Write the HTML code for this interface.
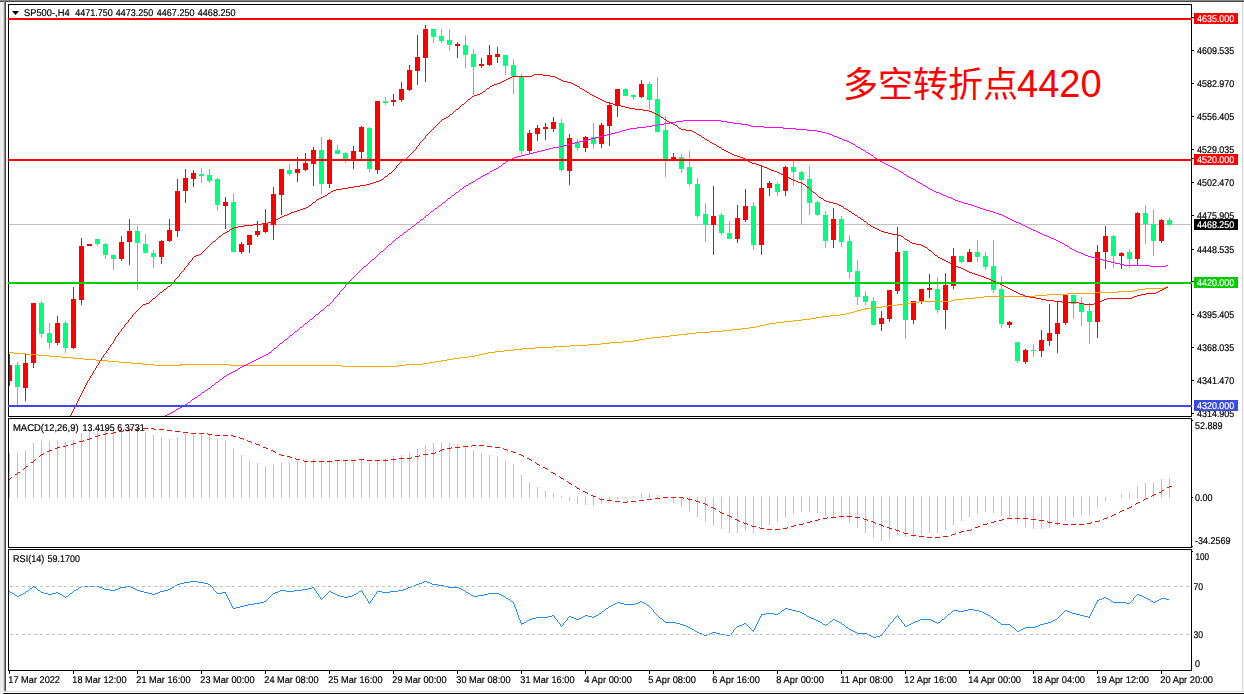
<!DOCTYPE html>
<html><head><meta charset="utf-8"><title>SP500 H4</title>
<style>html,body{margin:0;padding:0;background:#fff;width:1244px;height:694px;overflow:hidden}body{position:relative;font-family:"Liberation Sans",sans-serif}</style></head>
<body>
<svg width="1244" height="694" viewBox="0 0 1244 694" style="display:block;position:absolute;left:0;top:0">
<defs><clipPath id="cm"><rect x="9" y="5" width="1182" height="411"/></clipPath><clipPath id="c2"><rect x="9" y="419" width="1182" height="128"/></clipPath><clipPath id="c3"><rect x="9" y="550" width="1182" height="120"/></clipPath></defs>
<rect x="0" y="0" width="1244" height="694" fill="#ffffff"/>
<g shape-rendering="crispEdges">
<rect x="0" y="0" width="1244" height="1" fill="#888888"/>
<rect x="0" y="1" width="1244" height="1" fill="#464646"/>
<rect x="0" y="2" width="1" height="692" fill="#e6e6e6"/>
<rect x="1" y="2" width="1" height="692" fill="#f6f6f6"/>
<rect x="2" y="2" width="1" height="692" fill="#ebebeb"/>
<rect x="3" y="2" width="1" height="689" fill="#dcdcdc"/>
<rect x="4" y="1" width="1" height="690" fill="#8a8a8a"/>
<rect x="5" y="1" width="1" height="690" fill="#4c4c4c"/>
<rect x="1242" y="2" width="1" height="690" fill="#dcdcdc"/>
<rect x="1243" y="2" width="1" height="690" fill="#f2f2f2"/>
<rect x="4" y="691" width="1240" height="1" fill="#dcdcdc"/>
<rect x="3" y="693" width="1241" height="1" fill="#101010"/>
</g>
<g shape-rendering="crispEdges">
<rect x="9" y="224" width="1182" height="1" fill="#c0c0c0"/>
</g>
<g shape-rendering="crispEdges" clip-path="url(#cm)">
<rect x="9" y="354" width="1" height="32" fill="#ff0000"/>
<rect x="7" y="365" width="5" height="16" fill="#ff0000"/>
<rect x="17" y="362" width="1" height="43" fill="#00ff7f"/>
<rect x="15" y="365" width="5" height="22" fill="#00ff7f"/>
<rect x="25" y="353" width="1" height="48" fill="#ff0000"/>
<rect x="23" y="363" width="5" height="25" fill="#ff0000"/>
<rect x="33" y="303" width="1" height="65" fill="#ff0000"/>
<rect x="31" y="303" width="5" height="60" fill="#ff0000"/>
<rect x="41" y="301" width="1" height="37" fill="#00ff7f"/>
<rect x="39" y="303" width="5" height="31" fill="#00ff7f"/>
<rect x="49" y="323" width="1" height="26" fill="#00ff7f"/>
<rect x="47" y="333" width="5" height="10" fill="#00ff7f"/>
<rect x="57" y="316" width="1" height="29" fill="#ff0000"/>
<rect x="55" y="323" width="5" height="20" fill="#ff0000"/>
<rect x="65" y="321" width="1" height="32" fill="#00ff7f"/>
<rect x="63" y="323" width="5" height="25" fill="#00ff7f"/>
<rect x="73" y="287" width="1" height="62" fill="#ff0000"/>
<rect x="71" y="299" width="5" height="49" fill="#ff0000"/>
<rect x="81" y="238" width="1" height="67" fill="#ff0000"/>
<rect x="79" y="246" width="5" height="54" fill="#ff0000"/>
<rect x="89" y="244" width="1" height="2" fill="#ff0000"/>
<rect x="87" y="244" width="5" height="2" fill="#ff0000"/>
<rect x="97" y="239" width="1" height="7" fill="#00ff7f"/>
<rect x="95" y="239" width="5" height="5" fill="#00ff7f"/>
<rect x="105" y="243" width="1" height="16" fill="#00ff7f"/>
<rect x="103" y="244" width="5" height="11" fill="#00ff7f"/>
<rect x="113" y="254" width="1" height="16" fill="#00ff7f"/>
<rect x="111" y="255" width="5" height="4" fill="#00ff7f"/>
<rect x="121" y="236" width="1" height="25" fill="#ff0000"/>
<rect x="119" y="242" width="5" height="17" fill="#ff0000"/>
<rect x="129" y="219" width="1" height="46" fill="#ff0000"/>
<rect x="127" y="231" width="5" height="11" fill="#ff0000"/>
<rect x="137" y="226" width="1" height="64" fill="#00ff7f"/>
<rect x="135" y="231" width="5" height="12" fill="#00ff7f"/>
<rect x="145" y="234" width="1" height="19" fill="#00ff7f"/>
<rect x="143" y="244" width="5" height="9" fill="#00ff7f"/>
<rect x="153" y="250" width="1" height="18" fill="#00ff7f"/>
<rect x="151" y="253" width="5" height="4" fill="#00ff7f"/>
<rect x="161" y="240" width="1" height="24" fill="#ff0000"/>
<rect x="159" y="241" width="5" height="16" fill="#ff0000"/>
<rect x="169" y="219" width="1" height="23" fill="#ff0000"/>
<rect x="167" y="230" width="5" height="11" fill="#ff0000"/>
<rect x="177" y="179" width="1" height="58" fill="#ff0000"/>
<rect x="175" y="191" width="5" height="40" fill="#ff0000"/>
<rect x="185" y="169" width="1" height="34" fill="#ff0000"/>
<rect x="183" y="178" width="5" height="13" fill="#ff0000"/>
<rect x="193" y="170" width="1" height="17" fill="#ff0000"/>
<rect x="191" y="173" width="5" height="6" fill="#ff0000"/>
<rect x="201" y="168" width="1" height="15" fill="#00ff7f"/>
<rect x="199" y="174" width="5" height="2" fill="#00ff7f"/>
<rect x="209" y="169" width="1" height="14" fill="#00ff7f"/>
<rect x="207" y="175" width="5" height="6" fill="#00ff7f"/>
<rect x="217" y="178" width="1" height="33" fill="#00ff7f"/>
<rect x="215" y="179" width="5" height="26" fill="#00ff7f"/>
<rect x="225" y="197" width="1" height="32" fill="#ff0000"/>
<rect x="223" y="202" width="5" height="4" fill="#ff0000"/>
<rect x="233" y="193" width="1" height="59" fill="#00ff7f"/>
<rect x="231" y="202" width="5" height="50" fill="#00ff7f"/>
<rect x="241" y="242" width="1" height="12" fill="#ff0000"/>
<rect x="239" y="244" width="5" height="8" fill="#ff0000"/>
<rect x="249" y="235" width="1" height="18" fill="#ff0000"/>
<rect x="247" y="235" width="5" height="10" fill="#ff0000"/>
<rect x="257" y="221" width="1" height="16" fill="#ff0000"/>
<rect x="255" y="231" width="5" height="4" fill="#ff0000"/>
<rect x="265" y="209" width="1" height="24" fill="#ff0000"/>
<rect x="263" y="224" width="5" height="8" fill="#ff0000"/>
<rect x="273" y="187" width="1" height="53" fill="#ff0000"/>
<rect x="271" y="194" width="5" height="31" fill="#ff0000"/>
<rect x="281" y="169" width="1" height="46" fill="#ff0000"/>
<rect x="279" y="169" width="5" height="26" fill="#ff0000"/>
<rect x="289" y="164" width="1" height="12" fill="#00ff7f"/>
<rect x="287" y="170" width="5" height="4" fill="#00ff7f"/>
<rect x="297" y="157" width="1" height="25" fill="#ff0000"/>
<rect x="295" y="169" width="5" height="4" fill="#ff0000"/>
<rect x="305" y="153" width="1" height="18" fill="#ff0000"/>
<rect x="303" y="163" width="5" height="7" fill="#ff0000"/>
<rect x="313" y="147" width="1" height="39" fill="#ff0000"/>
<rect x="311" y="150" width="5" height="14" fill="#ff0000"/>
<rect x="321" y="137" width="1" height="57" fill="#00ff7f"/>
<rect x="319" y="150" width="5" height="34" fill="#00ff7f"/>
<rect x="329" y="139" width="1" height="49" fill="#ff0000"/>
<rect x="327" y="140" width="5" height="44" fill="#ff0000"/>
<rect x="337" y="145" width="1" height="9" fill="#00ff7f"/>
<rect x="335" y="150" width="5" height="4" fill="#00ff7f"/>
<rect x="345" y="152" width="1" height="11" fill="#00ff7f"/>
<rect x="343" y="153" width="5" height="6" fill="#00ff7f"/>
<rect x="353" y="146" width="1" height="23" fill="#ff0000"/>
<rect x="351" y="151" width="5" height="9" fill="#ff0000"/>
<rect x="361" y="126" width="1" height="33" fill="#ff0000"/>
<rect x="359" y="127" width="5" height="25" fill="#ff0000"/>
<rect x="369" y="127" width="1" height="45" fill="#00ff7f"/>
<rect x="367" y="128" width="5" height="41" fill="#00ff7f"/>
<rect x="377" y="101" width="1" height="73" fill="#ff0000"/>
<rect x="375" y="101" width="5" height="69" fill="#ff0000"/>
<rect x="385" y="97" width="1" height="8" fill="#00ff7f"/>
<rect x="383" y="101" width="5" height="2" fill="#00ff7f"/>
<rect x="393" y="94" width="1" height="12" fill="#ff0000"/>
<rect x="391" y="100" width="5" height="2" fill="#ff0000"/>
<rect x="401" y="82" width="1" height="20" fill="#ff0000"/>
<rect x="399" y="89" width="5" height="11" fill="#ff0000"/>
<rect x="409" y="65" width="1" height="26" fill="#ff0000"/>
<rect x="407" y="70" width="5" height="20" fill="#ff0000"/>
<rect x="417" y="35" width="1" height="50" fill="#ff0000"/>
<rect x="415" y="57" width="5" height="14" fill="#ff0000"/>
<rect x="425" y="25" width="1" height="57" fill="#ff0000"/>
<rect x="423" y="29" width="5" height="29" fill="#ff0000"/>
<rect x="433" y="29" width="1" height="14" fill="#00ff7f"/>
<rect x="431" y="29" width="5" height="8" fill="#00ff7f"/>
<rect x="441" y="29" width="1" height="14" fill="#00ff7f"/>
<rect x="439" y="36" width="5" height="5" fill="#00ff7f"/>
<rect x="449" y="29" width="1" height="22" fill="#00ff7f"/>
<rect x="447" y="40" width="5" height="5" fill="#00ff7f"/>
<rect x="457" y="42" width="1" height="16" fill="#ff0000"/>
<rect x="455" y="44" width="5" height="2" fill="#ff0000"/>
<rect x="465" y="35" width="1" height="33" fill="#00ff7f"/>
<rect x="463" y="45" width="5" height="10" fill="#00ff7f"/>
<rect x="473" y="49" width="1" height="46" fill="#00ff7f"/>
<rect x="471" y="54" width="5" height="13" fill="#00ff7f"/>
<rect x="481" y="58" width="1" height="10" fill="#ff0000"/>
<rect x="479" y="64" width="5" height="2" fill="#ff0000"/>
<rect x="489" y="45" width="1" height="21" fill="#ff0000"/>
<rect x="487" y="55" width="5" height="10" fill="#ff0000"/>
<rect x="497" y="47" width="1" height="16" fill="#ff0000"/>
<rect x="495" y="54" width="5" height="3" fill="#ff0000"/>
<rect x="505" y="55" width="1" height="20" fill="#00ff7f"/>
<rect x="503" y="55" width="5" height="11" fill="#00ff7f"/>
<rect x="513" y="59" width="1" height="35" fill="#00ff7f"/>
<rect x="511" y="65" width="5" height="11" fill="#00ff7f"/>
<rect x="521" y="74" width="1" height="80" fill="#00ff7f"/>
<rect x="519" y="77" width="5" height="74" fill="#00ff7f"/>
<rect x="529" y="130" width="1" height="23" fill="#ff0000"/>
<rect x="527" y="133" width="5" height="18" fill="#ff0000"/>
<rect x="537" y="125" width="1" height="16" fill="#ff0000"/>
<rect x="535" y="128" width="5" height="6" fill="#ff0000"/>
<rect x="545" y="123" width="1" height="17" fill="#ff0000"/>
<rect x="543" y="127" width="5" height="2" fill="#ff0000"/>
<rect x="553" y="117" width="1" height="15" fill="#ff0000"/>
<rect x="551" y="122" width="5" height="7" fill="#ff0000"/>
<rect x="561" y="119" width="1" height="53" fill="#00ff7f"/>
<rect x="559" y="123" width="5" height="47" fill="#00ff7f"/>
<rect x="569" y="134" width="1" height="51" fill="#ff0000"/>
<rect x="567" y="138" width="5" height="33" fill="#ff0000"/>
<rect x="577" y="139" width="1" height="12" fill="#00ff7f"/>
<rect x="575" y="143" width="5" height="5" fill="#00ff7f"/>
<rect x="585" y="136" width="1" height="16" fill="#ff0000"/>
<rect x="583" y="137" width="5" height="11" fill="#ff0000"/>
<rect x="593" y="123" width="1" height="26" fill="#00ff7f"/>
<rect x="591" y="137" width="5" height="7" fill="#00ff7f"/>
<rect x="601" y="123" width="1" height="25" fill="#ff0000"/>
<rect x="599" y="125" width="5" height="19" fill="#ff0000"/>
<rect x="609" y="102" width="1" height="44" fill="#ff0000"/>
<rect x="607" y="105" width="5" height="21" fill="#ff0000"/>
<rect x="617" y="89" width="1" height="28" fill="#ff0000"/>
<rect x="615" y="89" width="5" height="17" fill="#ff0000"/>
<rect x="625" y="88" width="1" height="8" fill="#00ff7f"/>
<rect x="623" y="89" width="5" height="7" fill="#00ff7f"/>
<rect x="633" y="94" width="1" height="6" fill="#00ff7f"/>
<rect x="631" y="95" width="5" height="2" fill="#00ff7f"/>
<rect x="641" y="80" width="1" height="18" fill="#ff0000"/>
<rect x="639" y="84" width="5" height="13" fill="#ff0000"/>
<rect x="649" y="82" width="1" height="27" fill="#00ff7f"/>
<rect x="647" y="84" width="5" height="16" fill="#00ff7f"/>
<rect x="657" y="77" width="1" height="55" fill="#00ff7f"/>
<rect x="655" y="99" width="5" height="33" fill="#00ff7f"/>
<rect x="665" y="116" width="1" height="61" fill="#00ff7f"/>
<rect x="663" y="130" width="5" height="30" fill="#00ff7f"/>
<rect x="673" y="153" width="1" height="7" fill="#ff0000"/>
<rect x="671" y="157" width="5" height="3" fill="#ff0000"/>
<rect x="681" y="154" width="1" height="19" fill="#00ff7f"/>
<rect x="679" y="157" width="5" height="12" fill="#00ff7f"/>
<rect x="689" y="151" width="1" height="35" fill="#00ff7f"/>
<rect x="687" y="167" width="5" height="17" fill="#00ff7f"/>
<rect x="697" y="178" width="1" height="40" fill="#00ff7f"/>
<rect x="695" y="184" width="5" height="32" fill="#00ff7f"/>
<rect x="705" y="203" width="1" height="39" fill="#00ff7f"/>
<rect x="703" y="214" width="5" height="11" fill="#00ff7f"/>
<rect x="713" y="186" width="1" height="69" fill="#ff0000"/>
<rect x="711" y="216" width="5" height="9" fill="#ff0000"/>
<rect x="721" y="213" width="1" height="22" fill="#00ff7f"/>
<rect x="719" y="215" width="5" height="18" fill="#00ff7f"/>
<rect x="729" y="221" width="1" height="18" fill="#00ff7f"/>
<rect x="727" y="233" width="5" height="6" fill="#00ff7f"/>
<rect x="737" y="205" width="1" height="38" fill="#ff0000"/>
<rect x="735" y="218" width="5" height="21" fill="#ff0000"/>
<rect x="745" y="189" width="1" height="33" fill="#ff0000"/>
<rect x="743" y="206" width="5" height="14" fill="#ff0000"/>
<rect x="753" y="202" width="1" height="48" fill="#00ff7f"/>
<rect x="751" y="206" width="5" height="39" fill="#00ff7f"/>
<rect x="761" y="165" width="1" height="90" fill="#ff0000"/>
<rect x="759" y="188" width="5" height="57" fill="#ff0000"/>
<rect x="769" y="181" width="1" height="15" fill="#ff0000"/>
<rect x="767" y="183" width="5" height="5" fill="#ff0000"/>
<rect x="777" y="182" width="1" height="14" fill="#00ff7f"/>
<rect x="775" y="184" width="5" height="8" fill="#00ff7f"/>
<rect x="785" y="166" width="1" height="30" fill="#ff0000"/>
<rect x="783" y="167" width="5" height="24" fill="#ff0000"/>
<rect x="793" y="161" width="1" height="25" fill="#00ff7f"/>
<rect x="791" y="167" width="5" height="5" fill="#00ff7f"/>
<rect x="801" y="171" width="1" height="54" fill="#00ff7f"/>
<rect x="799" y="172" width="5" height="8" fill="#00ff7f"/>
<rect x="809" y="166" width="1" height="49" fill="#00ff7f"/>
<rect x="807" y="179" width="5" height="24" fill="#00ff7f"/>
<rect x="817" y="201" width="1" height="15" fill="#00ff7f"/>
<rect x="815" y="202" width="5" height="13" fill="#00ff7f"/>
<rect x="825" y="211" width="1" height="37" fill="#00ff7f"/>
<rect x="823" y="215" width="5" height="26" fill="#00ff7f"/>
<rect x="833" y="208" width="1" height="40" fill="#ff0000"/>
<rect x="831" y="219" width="5" height="21" fill="#ff0000"/>
<rect x="841" y="216" width="1" height="31" fill="#00ff7f"/>
<rect x="839" y="219" width="5" height="23" fill="#00ff7f"/>
<rect x="849" y="235" width="1" height="44" fill="#00ff7f"/>
<rect x="847" y="241" width="5" height="31" fill="#00ff7f"/>
<rect x="857" y="260" width="1" height="45" fill="#00ff7f"/>
<rect x="855" y="271" width="5" height="26" fill="#00ff7f"/>
<rect x="865" y="291" width="1" height="14" fill="#00ff7f"/>
<rect x="863" y="296" width="5" height="6" fill="#00ff7f"/>
<rect x="873" y="297" width="1" height="28" fill="#00ff7f"/>
<rect x="871" y="301" width="5" height="24" fill="#00ff7f"/>
<rect x="881" y="311" width="1" height="20" fill="#ff0000"/>
<rect x="879" y="318" width="5" height="6" fill="#ff0000"/>
<rect x="889" y="290" width="1" height="32" fill="#ff0000"/>
<rect x="887" y="290" width="5" height="29" fill="#ff0000"/>
<rect x="897" y="227" width="1" height="67" fill="#ff0000"/>
<rect x="895" y="252" width="5" height="39" fill="#ff0000"/>
<rect x="905" y="251" width="1" height="88" fill="#00ff7f"/>
<rect x="903" y="251" width="5" height="69" fill="#00ff7f"/>
<rect x="913" y="301" width="1" height="23" fill="#ff0000"/>
<rect x="911" y="301" width="5" height="19" fill="#ff0000"/>
<rect x="921" y="289" width="1" height="15" fill="#ff0000"/>
<rect x="919" y="289" width="5" height="13" fill="#ff0000"/>
<rect x="929" y="274" width="1" height="24" fill="#ff0000"/>
<rect x="927" y="288" width="5" height="2" fill="#ff0000"/>
<rect x="937" y="277" width="1" height="36" fill="#00ff7f"/>
<rect x="935" y="289" width="5" height="21" fill="#00ff7f"/>
<rect x="945" y="273" width="1" height="56" fill="#ff0000"/>
<rect x="943" y="285" width="5" height="25" fill="#ff0000"/>
<rect x="953" y="248" width="1" height="41" fill="#ff0000"/>
<rect x="951" y="256" width="5" height="30" fill="#ff0000"/>
<rect x="961" y="256" width="1" height="7" fill="#00ff7f"/>
<rect x="959" y="256" width="5" height="6" fill="#00ff7f"/>
<rect x="969" y="249" width="1" height="13" fill="#ff0000"/>
<rect x="967" y="252" width="5" height="10" fill="#ff0000"/>
<rect x="977" y="240" width="1" height="22" fill="#00ff7f"/>
<rect x="975" y="252" width="5" height="5" fill="#00ff7f"/>
<rect x="985" y="252" width="1" height="18" fill="#00ff7f"/>
<rect x="983" y="256" width="5" height="11" fill="#00ff7f"/>
<rect x="993" y="240" width="1" height="53" fill="#00ff7f"/>
<rect x="991" y="266" width="5" height="24" fill="#00ff7f"/>
<rect x="1001" y="276" width="1" height="52" fill="#00ff7f"/>
<rect x="999" y="289" width="5" height="35" fill="#00ff7f"/>
<rect x="1009" y="321" width="1" height="7" fill="#ff0000"/>
<rect x="1007" y="322" width="5" height="3" fill="#ff0000"/>
<rect x="1017" y="342" width="1" height="21" fill="#00ff7f"/>
<rect x="1015" y="342" width="5" height="19" fill="#00ff7f"/>
<rect x="1025" y="349" width="1" height="15" fill="#ff0000"/>
<rect x="1023" y="350" width="5" height="12" fill="#ff0000"/>
<rect x="1033" y="344" width="1" height="13" fill="#00ff7f"/>
<rect x="1031" y="350" width="5" height="1" fill="#00ff7f"/>
<rect x="1041" y="330" width="1" height="27" fill="#ff0000"/>
<rect x="1039" y="340" width="5" height="11" fill="#ff0000"/>
<rect x="1049" y="304" width="1" height="42" fill="#ff0000"/>
<rect x="1047" y="333" width="5" height="8" fill="#ff0000"/>
<rect x="1057" y="302" width="1" height="51" fill="#ff0000"/>
<rect x="1055" y="323" width="5" height="11" fill="#ff0000"/>
<rect x="1065" y="295" width="1" height="30" fill="#ff0000"/>
<rect x="1063" y="295" width="5" height="28" fill="#ff0000"/>
<rect x="1073" y="295" width="1" height="24" fill="#00ff7f"/>
<rect x="1071" y="295" width="5" height="9" fill="#00ff7f"/>
<rect x="1081" y="297" width="1" height="29" fill="#00ff7f"/>
<rect x="1079" y="304" width="5" height="8" fill="#00ff7f"/>
<rect x="1089" y="303" width="1" height="41" fill="#00ff7f"/>
<rect x="1087" y="311" width="5" height="11" fill="#00ff7f"/>
<rect x="1097" y="245" width="1" height="93" fill="#ff0000"/>
<rect x="1095" y="252" width="5" height="70" fill="#ff0000"/>
<rect x="1105" y="226" width="1" height="43" fill="#ff0000"/>
<rect x="1103" y="236" width="5" height="16" fill="#ff0000"/>
<rect x="1113" y="235" width="1" height="33" fill="#00ff7f"/>
<rect x="1111" y="236" width="5" height="20" fill="#00ff7f"/>
<rect x="1121" y="252" width="1" height="17" fill="#ff0000"/>
<rect x="1119" y="253" width="5" height="3" fill="#ff0000"/>
<rect x="1129" y="249" width="1" height="19" fill="#00ff7f"/>
<rect x="1127" y="252" width="5" height="7" fill="#00ff7f"/>
<rect x="1137" y="212" width="1" height="53" fill="#ff0000"/>
<rect x="1135" y="213" width="5" height="46" fill="#ff0000"/>
<rect x="1145" y="205" width="1" height="39" fill="#00ff7f"/>
<rect x="1143" y="213" width="5" height="11" fill="#00ff7f"/>
<rect x="1153" y="209" width="1" height="47" fill="#00ff7f"/>
<rect x="1151" y="224" width="5" height="17" fill="#00ff7f"/>
<rect x="1161" y="219" width="1" height="24" fill="#ff0000"/>
<rect x="1159" y="220" width="5" height="21" fill="#ff0000"/>
<rect x="1169" y="218" width="1" height="8" fill="#00ff7f"/>
<rect x="1167" y="220" width="5" height="5" fill="#00ff7f"/>
</g>
<path d="M1167 286h1v1h-1zM1164 287h3v1h-3zM1145 288h19v1h-19zM1138 289h7v1h-7zM1134 290h4v1h-4zM1118 291h16v1h-16zM1095 292h23v1h-23zM1067 293h28v1h-28zM1047 294h20v1h-20zM1035 295h12v1h-12zM984 296h51v1h-51zM975 297h9v1h-9zM964 298h11v1h-11zM955 299h9v1h-9zM951 300h4v1h-4zM919 301h32v1h-32zM910 302h9v1h-9zM905 303h5v1h-5zM897 304h8v1h-8zM888 305h9v1h-9zM882 306h6v1h-6zM873 307h9v1h-9zM865 308h8v1h-8zM861 309h4v1h-4zM857 310h4v1h-4zM854 311h3v1h-3zM850 312h4v1h-4zM846 313h4v1h-4zM840 314h6v1h-6zM830 315h10v1h-10zM822 316h8v1h-8zM816 317h6v1h-6zM810 318h6v1h-6zM802 319h8v1h-8zM793 320h9v1h-9zM784 321h9v1h-9zM776 322h8v1h-8zM769 323h7v1h-7zM765 324h4v1h-4zM760 325h5v1h-5zM756 326h4v1h-4zM749 327h7v1h-7zM741 328h8v1h-8zM732 329h9v1h-9zM723 330h9v1h-9zM710 331h13v1h-13zM696 332h14v1h-14zM687 333h9v1h-9zM678 334h9v1h-9zM670 335h8v1h-8zM661 336h9v1h-9zM652 337h9v1h-9zM645 338h7v1h-7zM639 339h6v1h-6zM633 340h6v1h-6zM623 341h10v1h-10zM610 342h13v1h-13zM601 343h9v1h-9zM588 344h13v1h-13zM570 345h18v1h-18zM553 346h17v1h-17zM535 347h18v1h-18zM522 348h13v1h-13zM513 349h9v1h-9zM504 350h9v1h-9zM495 351h9v1h-9zM8 352h6v1h-6zM488 352h7v1h-7zM14 353h12v1h-12zM484 353h4v1h-4zM26 354h12v1h-12zM479 354h5v1h-5zM38 355h11v1h-11zM475 355h4v1h-4zM49 356h12v1h-12zM468 356h7v1h-7zM61 357h12v1h-12zM460 357h8v1h-8zM73 358h11v1h-11zM453 358h7v1h-7zM84 359h12v1h-12zM447 359h6v1h-6zM96 360h12v1h-12zM441 360h6v1h-6zM108 361h11v1h-11zM435 361h6v1h-6zM119 362h12v1h-12zM429 362h6v1h-6zM131 363h12v1h-12zM423 363h6v1h-6zM143 364h11v1h-11zM180 364h50v1h-50zM406 364h17v1h-17zM154 365h27v1h-27zM230 365h112v1h-112zM398 365h8v1h-8zM342 366h56v1h-56z" fill="#ffa500" shape-rendering="crispEdges" clip-path="url(#cm)" />
<path d="M683 120h38v1h-38zM676 121h7v1h-7zM721 121h6v1h-6zM670 122h6v1h-6zM727 122h6v1h-6zM664 123h6v1h-6zM733 123h8v1h-8zM658 124h6v1h-6zM741 124h7v1h-7zM652 125h6v1h-6zM748 125h3v1h-3zM646 126h6v1h-6zM751 126h13v1h-13zM637 127h9v1h-9zM764 127h19v1h-19zM630 128h7v1h-7zM783 128h13v1h-13zM626 129h4v1h-4zM796 129h11v1h-11zM622 130h4v1h-4zM807 130h10v1h-10zM619 131h3v1h-3zM817 131h5v1h-5zM615 132h4v1h-4zM822 132h4v1h-4zM611 133h4v1h-4zM826 133h3v1h-3zM607 134h4v1h-4zM829 134h3v1h-3zM603 135h4v1h-4zM832 135h2v1h-2zM599 136h4v1h-4zM834 136h3v1h-3zM595 137h4v1h-4zM837 137h2v1h-2zM591 138h4v1h-4zM839 138h3v1h-3zM587 139h4v1h-4zM842 139h2v1h-2zM583 140h4v1h-4zM844 140h3v1h-3zM579 141h4v1h-4zM847 141h2v1h-2zM575 142h4v1h-4zM849 142h2v1h-2zM571 143h4v1h-4zM851 143h2v1h-2zM567 144h4v1h-4zM853 144h2v1h-2zM563 145h4v1h-4zM855 145h1v1h-1zM559 146h4v1h-4zM856 146h2v1h-2zM553 147h6v1h-6zM858 147h2v1h-2zM549 148h4v1h-4zM860 148h1v1h-1zM545 149h4v1h-4zM861 149h2v1h-2zM541 150h4v1h-4zM863 150h2v1h-2zM537 151h4v1h-4zM865 151h1v1h-1zM533 152h4v1h-4zM866 152h2v1h-2zM529 153h4v1h-4zM868 153h2v1h-2zM525 154h4v1h-4zM870 154h1v1h-1zM521 155h4v1h-4zM871 155h2v1h-2zM517 156h4v1h-4zM873 156h1v1h-1zM514 157h3v1h-3zM874 157h1v1h-1zM512 158h2v1h-2zM875 158h2v1h-2zM510 159h2v1h-2zM877 159h1v1h-1zM508 160h2v1h-2zM878 160h2v1h-2zM506 161h2v1h-2zM880 161h2v1h-2zM505 162h1v1h-1zM882 162h2v1h-2zM503 163h2v1h-2zM884 163h2v1h-2zM502 164h1v1h-1zM886 164h2v1h-2zM501 165h1v1h-1zM888 165h2v1h-2zM499 166h2v1h-2zM890 166h2v1h-2zM498 167h1v1h-1zM892 167h2v1h-2zM496 168h2v1h-2zM894 168h2v1h-2zM494 169h2v1h-2zM896 169h2v1h-2zM492 170h2v1h-2zM898 170h1v1h-1zM490 171h2v1h-2zM899 171h2v1h-2zM489 172h1v1h-1zM901 172h2v1h-2zM487 173h2v1h-2zM903 173h1v1h-1zM485 174h2v1h-2zM904 174h2v1h-2zM483 175h2v1h-2zM906 175h1v1h-1zM481 176h2v1h-2zM907 176h2v1h-2zM480 177h1v1h-1zM909 177h2v1h-2zM478 178h2v1h-2zM911 178h2v1h-2zM476 179h2v1h-2zM913 179h2v1h-2zM475 180h1v1h-1zM915 180h1v1h-1zM473 181h2v1h-2zM916 181h2v1h-2zM471 182h2v1h-2zM918 182h2v1h-2zM469 183h2v1h-2zM920 183h2v1h-2zM468 184h1v1h-1zM922 184h1v1h-1zM466 185h2v1h-2zM923 185h2v1h-2zM464 186h2v1h-2zM925 186h2v1h-2zM463 187h1v1h-1zM927 187h1v1h-1zM462 188h1v1h-1zM928 188h2v1h-2zM460 189h2v1h-2zM930 189h2v1h-2zM459 190h1v1h-1zM932 190h2v1h-2zM458 191h1v1h-1zM934 191h2v1h-2zM456 192h2v1h-2zM936 192h3v1h-3zM455 193h1v1h-1zM939 193h2v1h-2zM454 194h1v1h-1zM941 194h2v1h-2zM452 195h2v1h-2zM943 195h3v1h-3zM451 196h1v1h-1zM946 196h2v1h-2zM450 197h1v1h-1zM948 197h3v1h-3zM448 198h2v1h-2zM951 198h2v1h-2zM447 199h1v1h-1zM953 199h2v1h-2zM446 200h1v1h-1zM955 200h3v1h-3zM445 201h1v1h-1zM958 201h3v1h-3zM443 202h2v1h-2zM961 202h3v1h-3zM442 203h1v1h-1zM964 203h4v1h-4zM441 204h1v1h-1zM968 204h3v1h-3zM439 205h2v1h-2zM971 205h3v1h-3zM438 206h1v1h-1zM974 206h3v1h-3zM437 207h1v1h-1zM977 207h3v1h-3zM435 208h2v1h-2zM980 208h3v1h-3zM434 209h1v1h-1zM983 209h3v1h-3zM433 210h1v1h-1zM986 210h4v1h-4zM431 211h2v1h-2zM990 211h3v1h-3zM430 212h1v1h-1zM993 212h3v1h-3zM429 213h1v1h-1zM996 213h3v1h-3zM428 214h1v1h-1zM999 214h3v1h-3zM426 215h2v1h-2zM1002 215h2v1h-2zM425 216h1v1h-1zM1004 216h2v1h-2zM424 217h1v1h-1zM1006 217h2v1h-2zM423 218h1v1h-1zM1008 218h2v1h-2zM421 219h2v1h-2zM1010 219h2v1h-2zM420 220h1v1h-1zM1012 220h2v1h-2zM419 221h1v1h-1zM1014 221h2v1h-2zM417 222h2v1h-2zM1016 222h3v1h-3zM416 223h1v1h-1zM1019 223h2v1h-2zM415 224h1v1h-1zM1021 224h2v1h-2zM414 225h1v1h-1zM1023 225h2v1h-2zM412 226h2v1h-2zM1025 226h2v1h-2zM411 227h1v1h-1zM1027 227h2v1h-2zM410 228h1v1h-1zM1029 228h2v1h-2zM408 229h2v1h-2zM1031 229h2v1h-2zM407 230h1v1h-1zM1033 230h3v1h-3zM406 231h1v1h-1zM1036 231h2v1h-2zM404 232h2v1h-2zM1038 232h2v1h-2zM403 233h1v1h-1zM1040 233h2v1h-2zM402 234h1v1h-1zM1042 234h2v1h-2zM400 235h2v1h-2zM1044 235h3v1h-3zM399 236h1v1h-1zM1047 236h2v1h-2zM398 237h1v1h-1zM1049 237h2v1h-2zM396 238h2v1h-2zM1051 238h3v1h-3zM395 239h1v1h-1zM1054 239h2v1h-2zM394 240h1v1h-1zM1056 240h2v1h-2zM393 241h1v1h-1zM1058 241h2v1h-2zM392 242h1v1h-1zM1060 242h2v1h-2zM391 243h1v1h-1zM1062 243h2v1h-2zM389 244h2v1h-2zM1064 244h1v1h-1zM388 245h1v1h-1zM1065 245h2v1h-2zM387 246h1v1h-1zM1067 246h2v1h-2zM386 247h1v1h-1zM1069 247h1v1h-1zM385 248h1v1h-1zM1070 248h2v1h-2zM384 249h1v1h-1zM1072 249h2v1h-2zM383 250h1v1h-1zM1074 250h2v1h-2zM381 251h2v1h-2zM1076 251h2v1h-2zM380 252h1v1h-1zM1078 252h3v1h-3zM379 253h1v1h-1zM1081 253h2v1h-2zM378 254h1v1h-1zM1083 254h2v1h-2zM377 255h1v1h-1zM1085 255h3v1h-3zM376 256h1v1h-1zM1088 256h3v1h-3zM375 257h1v1h-1zM1091 257h4v1h-4zM374 258h1v1h-1zM1095 258h4v1h-4zM372 259h2v1h-2zM1099 259h4v1h-4zM371 260h1v1h-1zM1103 260h4v1h-4zM370 261h1v1h-1zM1107 261h4v1h-4zM369 262h1v1h-1zM1111 262h4v1h-4zM368 263h1v1h-1zM1115 263h5v1h-5zM367 264h1v1h-1zM1120 264h4v1h-4zM366 265h1v1h-1zM1124 265h26v1h-26zM1166 265h2v1h-2zM364 266h2v1h-2zM1150 266h16v1h-16zM363 267h1v1h-1zM362 268h1v1h-1zM361 269h1v1h-1zM360 270h1v1h-1zM359 271h1v1h-1zM358 272h1v1h-1zM357 273h1v1h-1zM356 274h1v1h-1zM355 275h1v1h-1zM354 276h1v1h-1zM353 277h1v1h-1zM352 278h1v1h-1zM351 279h1v1h-1zM350 280h1v1h-1zM349 281h1v1h-1zM348 282h1v1h-1zM347 283h1v1h-1zM346 284h1v1h-1zM345 285h1v1h-1zM345 286h1v1h-1zM344 287h1v1h-1zM343 288h1v1h-1zM342 289h1v1h-1zM341 290h1v1h-1zM340 291h1v1h-1zM339 292h1v1h-1zM339 293h1v1h-1zM338 294h1v1h-1zM337 295h1v1h-1zM336 296h1v1h-1zM335 297h1v1h-1zM334 298h1v1h-1zM333 299h1v1h-1zM333 300h1v1h-1zM332 301h1v1h-1zM331 302h1v1h-1zM330 303h1v1h-1zM329 304h1v1h-1zM327 305h2v1h-2zM326 306h1v1h-1zM325 307h1v1h-1zM324 308h1v1h-1zM323 309h1v1h-1zM321 310h2v1h-2zM320 311h1v1h-1zM319 312h1v1h-1zM318 313h1v1h-1zM316 314h2v1h-2zM315 315h1v1h-1zM314 316h1v1h-1zM313 317h1v1h-1zM312 318h1v1h-1zM310 319h2v1h-2zM309 320h1v1h-1zM308 321h1v1h-1zM307 322h1v1h-1zM305 323h2v1h-2zM304 324h1v1h-1zM303 325h1v1h-1zM302 326h1v1h-1zM300 327h2v1h-2zM299 328h1v1h-1zM298 329h1v1h-1zM297 330h1v1h-1zM295 331h2v1h-2zM294 332h1v1h-1zM293 333h1v1h-1zM292 334h1v1h-1zM290 335h2v1h-2zM289 336h1v1h-1zM288 337h1v1h-1zM287 338h1v1h-1zM285 339h2v1h-2zM284 340h1v1h-1zM283 341h1v1h-1zM282 342h1v1h-1zM280 343h2v1h-2zM279 344h1v1h-1zM278 345h1v1h-1zM277 346h1v1h-1zM276 347h1v1h-1zM274 348h2v1h-2zM273 349h1v1h-1zM272 350h1v1h-1zM271 351h1v1h-1zM269 352h2v1h-2zM268 353h1v1h-1zM266 354h2v1h-2zM264 355h2v1h-2zM262 356h2v1h-2zM260 357h2v1h-2zM258 358h2v1h-2zM256 359h2v1h-2zM254 360h2v1h-2zM252 361h2v1h-2zM250 362h2v1h-2zM248 363h2v1h-2zM246 364h2v1h-2zM244 365h2v1h-2zM242 366h2v1h-2zM240 367h2v1h-2zM238 368h2v1h-2zM237 369h1v1h-1zM235 370h2v1h-2zM233 371h2v1h-2zM231 372h2v1h-2zM229 373h2v1h-2zM227 374h2v1h-2zM226 375h1v1h-1zM224 376h2v1h-2zM223 377h1v1h-1zM222 378h1v1h-1zM220 379h2v1h-2zM219 380h1v1h-1zM218 381h1v1h-1zM216 382h2v1h-2zM215 383h1v1h-1zM214 384h1v1h-1zM212 385h2v1h-2zM211 386h1v1h-1zM210 387h1v1h-1zM208 388h2v1h-2zM207 389h1v1h-1zM205 390h2v1h-2zM204 391h1v1h-1zM202 392h2v1h-2zM201 393h1v1h-1zM200 394h1v1h-1zM198 395h2v1h-2zM197 396h1v1h-1zM195 397h2v1h-2zM194 398h1v1h-1zM192 399h2v1h-2zM191 400h1v1h-1zM190 401h1v1h-1zM188 402h2v1h-2zM187 403h1v1h-1zM185 404h2v1h-2zM184 405h1v1h-1zM182 406h2v1h-2zM180 407h2v1h-2zM178 408h2v1h-2zM176 409h2v1h-2zM175 410h1v1h-1zM173 411h2v1h-2zM171 412h2v1h-2zM169 413h2v1h-2zM167 414h2v1h-2zM165 415h2v1h-2zM164 416h1v1h-1z" fill="#ff00ff" shape-rendering="crispEdges" clip-path="url(#cm)" />
<path d="M534 74h9v1h-9zM532 75h2v1h-2zM543 75h7v1h-7zM512 76h20v1h-20zM550 76h5v1h-5zM510 77h2v1h-2zM555 77h2v1h-2zM508 78h2v1h-2zM557 78h2v1h-2zM506 79h2v1h-2zM559 79h2v1h-2zM504 80h2v1h-2zM561 80h2v1h-2zM502 81h2v1h-2zM563 81h4v1h-4zM500 82h2v1h-2zM567 82h4v1h-4zM497 83h3v1h-3zM571 83h2v1h-2zM494 84h3v1h-3zM573 84h2v1h-2zM492 85h2v1h-2zM575 85h2v1h-2zM490 86h2v1h-2zM577 86h2v1h-2zM489 87h1v1h-1zM579 87h1v1h-1zM487 88h2v1h-2zM580 88h2v1h-2zM486 89h1v1h-1zM582 89h2v1h-2zM485 90h1v1h-1zM584 90h1v1h-1zM483 91h2v1h-2zM585 91h2v1h-2zM482 92h1v1h-1zM587 92h2v1h-2zM480 93h2v1h-2zM589 93h1v1h-1zM477 94h3v1h-3zM590 94h2v1h-2zM474 95h3v1h-3zM592 95h2v1h-2zM472 96h2v1h-2zM594 96h2v1h-2zM471 97h1v1h-1zM596 97h2v1h-2zM470 98h1v1h-1zM598 98h2v1h-2zM468 99h2v1h-2zM600 99h2v1h-2zM467 100h1v1h-1zM602 100h2v1h-2zM466 101h1v1h-1zM604 101h2v1h-2zM465 102h1v1h-1zM606 102h3v1h-3zM464 103h1v1h-1zM609 103h4v1h-4zM462 104h2v1h-2zM613 104h4v1h-4zM461 105h1v1h-1zM617 105h4v1h-4zM460 106h1v1h-1zM621 106h4v1h-4zM459 107h1v1h-1zM625 107h4v1h-4zM458 108h1v1h-1zM629 108h6v1h-6zM456 109h2v1h-2zM635 109h8v1h-8zM455 110h1v1h-1zM643 110h6v1h-6zM454 111h1v1h-1zM649 111h3v1h-3zM453 112h1v1h-1zM652 112h2v1h-2zM452 113h1v1h-1zM654 113h2v1h-2zM450 114h2v1h-2zM656 114h2v1h-2zM449 115h1v1h-1zM658 115h2v1h-2zM448 116h1v1h-1zM660 116h1v1h-1zM446 117h2v1h-2zM661 117h2v1h-2zM444 118h2v1h-2zM663 118h1v1h-1zM442 119h2v1h-2zM664 119h2v1h-2zM441 120h1v1h-1zM666 120h1v1h-1zM440 121h1v1h-1zM667 121h2v1h-2zM439 122h1v1h-1zM669 122h2v1h-2zM438 123h1v1h-1zM671 123h2v1h-2zM437 124h1v1h-1zM673 124h2v1h-2zM436 125h1v1h-1zM675 125h2v1h-2zM435 126h1v1h-1zM677 126h1v1h-1zM434 127h1v1h-1zM678 127h1v1h-1zM433 128h1v1h-1zM679 128h2v1h-2zM432 129h1v1h-1zM681 129h5v1h-5zM431 130h1v1h-1zM686 130h6v1h-6zM430 131h1v1h-1zM692 131h2v1h-2zM429 132h1v1h-1zM694 132h2v1h-2zM428 133h1v1h-1zM696 133h1v1h-1zM427 134h1v1h-1zM697 134h2v1h-2zM426 135h1v1h-1zM699 135h2v1h-2zM425 136h1v1h-1zM701 136h1v1h-1zM425 137h1v1h-1zM702 137h2v1h-2zM424 138h1v1h-1zM704 138h1v1h-1zM423 139h1v1h-1zM705 139h2v1h-2zM422 140h1v1h-1zM707 140h2v1h-2zM421 141h1v1h-1zM709 141h1v1h-1zM420 142h1v1h-1zM710 142h2v1h-2zM419 143h1v1h-1zM712 143h2v1h-2zM419 144h1v1h-1zM714 144h2v1h-2zM418 145h1v1h-1zM716 145h1v1h-1zM417 146h1v1h-1zM717 146h2v1h-2zM416 147h1v1h-1zM719 147h2v1h-2zM416 148h1v1h-1zM721 148h1v1h-1zM415 149h1v1h-1zM722 149h2v1h-2zM414 150h1v1h-1zM724 150h2v1h-2zM413 151h1v1h-1zM726 151h2v1h-2zM412 152h1v1h-1zM728 152h2v1h-2zM411 153h1v1h-1zM730 153h2v1h-2zM410 154h1v1h-1zM732 154h2v1h-2zM409 155h1v1h-1zM734 155h3v1h-3zM408 156h1v1h-1zM737 156h3v1h-3zM407 157h1v1h-1zM740 157h3v1h-3zM406 158h1v1h-1zM743 158h2v1h-2zM404 159h2v1h-2zM745 159h2v1h-2zM402 160h2v1h-2zM747 160h1v1h-1zM401 161h1v1h-1zM748 161h2v1h-2zM400 162h1v1h-1zM750 162h2v1h-2zM399 163h1v1h-1zM752 163h4v1h-4zM398 164h1v1h-1zM756 164h3v1h-3zM397 165h1v1h-1zM759 165h3v1h-3zM396 166h1v1h-1zM762 166h2v1h-2zM396 167h1v1h-1zM764 167h3v1h-3zM395 168h1v1h-1zM767 168h2v1h-2zM394 169h1v1h-1zM769 169h2v1h-2zM393 170h1v1h-1zM771 170h3v1h-3zM392 171h1v1h-1zM774 171h3v1h-3zM391 172h1v1h-1zM777 172h2v1h-2zM389 173h2v1h-2zM779 173h2v1h-2zM388 174h1v1h-1zM781 174h2v1h-2zM387 175h1v1h-1zM783 175h2v1h-2zM385 176h2v1h-2zM785 176h2v1h-2zM384 177h1v1h-1zM787 177h2v1h-2zM383 178h1v1h-1zM789 178h2v1h-2zM381 179h2v1h-2zM791 179h2v1h-2zM379 180h2v1h-2zM793 180h3v1h-3zM376 181h3v1h-3zM796 181h2v1h-2zM373 182h3v1h-3zM798 182h3v1h-3zM370 183h3v1h-3zM801 183h2v1h-2zM366 184h4v1h-4zM803 184h2v1h-2zM360 185h6v1h-6zM805 185h1v1h-1zM354 186h6v1h-6zM806 186h1v1h-1zM348 187h6v1h-6zM807 187h2v1h-2zM342 188h6v1h-6zM809 188h1v1h-1zM336 189h6v1h-6zM810 189h1v1h-1zM333 190h3v1h-3zM811 190h1v1h-1zM331 191h2v1h-2zM812 191h1v1h-1zM330 192h1v1h-1zM813 192h2v1h-2zM328 193h2v1h-2zM815 193h1v1h-1zM327 194h1v1h-1zM816 194h1v1h-1zM325 195h2v1h-2zM817 195h1v1h-1zM323 196h2v1h-2zM818 196h1v1h-1zM321 197h2v1h-2zM819 197h2v1h-2zM319 198h2v1h-2zM821 198h2v1h-2zM317 199h2v1h-2zM823 199h1v1h-1zM316 200h1v1h-1zM824 200h2v1h-2zM315 201h1v1h-1zM826 201h3v1h-3zM313 202h2v1h-2zM829 202h4v1h-4zM312 203h1v1h-1zM833 203h4v1h-4zM311 204h1v1h-1zM837 204h2v1h-2zM309 205h2v1h-2zM839 205h2v1h-2zM308 206h1v1h-1zM841 206h2v1h-2zM306 207h2v1h-2zM843 207h1v1h-1zM303 208h3v1h-3zM844 208h2v1h-2zM300 209h3v1h-3zM846 209h2v1h-2zM297 210h3v1h-3zM848 210h1v1h-1zM294 211h3v1h-3zM849 211h2v1h-2zM291 212h3v1h-3zM851 212h1v1h-1zM289 213h2v1h-2zM852 213h2v1h-2zM287 214h2v1h-2zM854 214h1v1h-1zM284 215h3v1h-3zM855 215h2v1h-2zM282 216h2v1h-2zM857 216h1v1h-1zM280 217h2v1h-2zM858 217h2v1h-2zM278 218h2v1h-2zM860 218h1v1h-1zM276 219h2v1h-2zM861 219h2v1h-2zM274 220h2v1h-2zM863 220h1v1h-1zM272 221h2v1h-2zM864 221h2v1h-2zM268 222h4v1h-4zM866 222h1v1h-1zM262 223h6v1h-6zM867 223h1v1h-1zM253 224h9v1h-9zM868 224h2v1h-2zM244 225h9v1h-9zM870 225h1v1h-1zM238 226h6v1h-6zM871 226h2v1h-2zM234 227h4v1h-4zM873 227h2v1h-2zM232 228h2v1h-2zM875 228h2v1h-2zM230 229h2v1h-2zM877 229h2v1h-2zM229 230h1v1h-1zM879 230h2v1h-2zM227 231h2v1h-2zM881 231h3v1h-3zM225 232h2v1h-2zM884 232h4v1h-4zM223 233h2v1h-2zM888 233h4v1h-4zM222 234h1v1h-1zM892 234h6v1h-6zM221 235h1v1h-1zM898 235h3v1h-3zM219 236h2v1h-2zM901 236h2v1h-2zM218 237h1v1h-1zM903 237h1v1h-1zM217 238h1v1h-1zM904 238h1v1h-1zM216 239h1v1h-1zM905 239h2v1h-2zM215 240h1v1h-1zM907 240h2v1h-2zM213 241h2v1h-2zM909 241h1v1h-1zM212 242h1v1h-1zM910 242h2v1h-2zM211 243h1v1h-1zM912 243h4v1h-4zM210 244h1v1h-1zM916 244h5v1h-5zM209 245h1v1h-1zM921 245h2v1h-2zM208 246h1v1h-1zM923 246h2v1h-2zM207 247h1v1h-1zM925 247h2v1h-2zM206 248h1v1h-1zM927 248h1v1h-1zM205 249h1v1h-1zM928 249h1v1h-1zM204 250h1v1h-1zM929 250h2v1h-2zM203 251h1v1h-1zM931 251h1v1h-1zM202 252h1v1h-1zM932 252h1v1h-1zM201 253h1v1h-1zM933 253h1v1h-1zM199 254h2v1h-2zM934 254h1v1h-1zM196 255h3v1h-3zM935 255h2v1h-2zM194 256h2v1h-2zM937 256h1v1h-1zM193 257h1v1h-1zM938 257h2v1h-2zM192 258h1v1h-1zM940 258h2v1h-2zM192 259h1v1h-1zM942 259h2v1h-2zM191 260h1v1h-1zM944 260h2v1h-2zM190 261h1v1h-1zM946 261h2v1h-2zM189 262h1v1h-1zM948 262h2v1h-2zM188 263h1v1h-1zM950 263h2v1h-2zM188 264h1v1h-1zM952 264h2v1h-2zM187 265h1v1h-1zM954 265h2v1h-2zM186 266h1v1h-1zM956 266h2v1h-2zM185 267h1v1h-1zM958 267h3v1h-3zM184 268h1v1h-1zM961 268h2v1h-2zM184 269h1v1h-1zM963 269h2v1h-2zM183 270h1v1h-1zM965 270h2v1h-2zM182 271h1v1h-1zM967 271h2v1h-2zM181 272h1v1h-1zM969 272h3v1h-3zM180 273h1v1h-1zM972 273h3v1h-3zM179 274h1v1h-1zM975 274h3v1h-3zM179 275h1v1h-1zM978 275h3v1h-3zM178 276h1v1h-1zM981 276h3v1h-3zM177 277h1v1h-1zM984 277h2v1h-2zM176 278h1v1h-1zM986 278h3v1h-3zM175 279h1v1h-1zM989 279h2v1h-2zM174 280h1v1h-1zM991 280h2v1h-2zM174 281h1v1h-1zM993 281h3v1h-3zM173 282h1v1h-1zM996 282h2v1h-2zM172 283h1v1h-1zM998 283h2v1h-2zM171 284h1v1h-1zM1000 284h2v1h-2zM170 285h1v1h-1zM1002 285h2v1h-2zM168 286h2v1h-2zM1004 286h2v1h-2zM167 287h1v1h-1zM1006 287h2v1h-2zM1166 287h2v1h-2zM166 288h1v1h-1zM1008 288h2v1h-2zM1164 288h2v1h-2zM164 289h2v1h-2zM1010 289h2v1h-2zM1162 289h2v1h-2zM163 290h1v1h-1zM1012 290h2v1h-2zM1160 290h2v1h-2zM162 291h1v1h-1zM1014 291h2v1h-2zM1158 291h2v1h-2zM160 292h2v1h-2zM1016 292h2v1h-2zM1156 292h2v1h-2zM159 293h1v1h-1zM1018 293h2v1h-2zM1146 293h10v1h-10zM158 294h1v1h-1zM1020 294h3v1h-3zM1141 294h5v1h-5zM157 295h1v1h-1zM1023 295h2v1h-2zM1137 295h4v1h-4zM156 296h1v1h-1zM1025 296h5v1h-5zM1134 296h3v1h-3zM155 297h1v1h-1zM1030 297h6v1h-6zM1132 297h2v1h-2zM153 298h2v1h-2zM1036 298h5v1h-5zM1107 298h25v1h-25zM152 299h1v1h-1zM1041 299h5v1h-5zM1104 299h3v1h-3zM151 300h1v1h-1zM1046 300h8v1h-8zM1102 300h2v1h-2zM150 301h1v1h-1zM1054 301h8v1h-8zM1099 301h3v1h-3zM149 302h1v1h-1zM1062 302h17v1h-17zM1096 302h3v1h-3zM146 303h3v1h-3zM1079 303h5v1h-5zM1094 303h2v1h-2zM143 304h3v1h-3zM1084 304h10v1h-10zM142 305h1v1h-1zM141 306h1v1h-1zM140 307h1v1h-1zM139 308h1v1h-1zM138 309h1v1h-1zM137 310h1v1h-1zM136 311h1v1h-1zM135 312h1v1h-1zM134 313h1v1h-1zM133 314h1v1h-1zM132 315h1v1h-1zM132 316h1v1h-1zM131 317h1v1h-1zM130 318h1v1h-1zM129 319h1v1h-1zM128 320h1v1h-1zM128 321h1v1h-1zM127 322h1v1h-1zM126 323h1v1h-1zM125 324h1v1h-1zM124 325h1v1h-1zM124 326h1v1h-1zM123 327h1v1h-1zM122 328h1v1h-1zM121 329h1v1h-1zM121 330h1v1h-1zM120 331h1v1h-1zM119 332h1v1h-1zM118 333h1v1h-1zM118 334h1v1h-1zM117 335h1v1h-1zM116 336h1v1h-1zM115 337h1v1h-1zM115 338h1v1h-1zM114 339h1v1h-1zM114 340h1v1h-1zM113 341h1v1h-1zM113 342h1v1h-1zM112 343h1v1h-1zM111 344h1v1h-1zM110 345h1v1h-1zM110 346h1v1h-1zM109 347h1v1h-1zM108 348h1v1h-1zM108 349h1v1h-1zM107 350h1v1h-1zM106 351h1v1h-1zM106 352h1v1h-1zM105 353h1v1h-1zM104 354h1v1h-1zM103 355h1v1h-1zM103 356h1v1h-1zM102 357h1v1h-1zM101 358h1v1h-1zM101 359h1v1h-1zM100 360h1v1h-1zM99 361h1v1h-1zM99 362h1v1h-1zM98 363h1v1h-1zM98 364h1v1h-1zM97 365h1v1h-1zM96 366h1v1h-1zM96 367h1v1h-1zM95 368h1v1h-1zM95 369h1v1h-1zM94 370h1v1h-1zM93 371h1v1h-1zM93 372h1v1h-1zM92 373h1v1h-1zM92 374h1v1h-1zM91 375h1v1h-1zM90 376h1v1h-1zM90 377h1v1h-1zM89 378h1v1h-1zM89 379h1v1h-1zM88 380h1v1h-1zM87 381h1v1h-1zM87 382h1v1h-1zM86 383h1v1h-1zM86 384h1v1h-1zM85 385h1v1h-1zM85 386h1v1h-1zM84 387h1v1h-1zM84 388h1v1h-1zM83 389h1v1h-1zM83 390h1v1h-1zM82 391h1v1h-1zM82 392h1v1h-1zM81 393h1v1h-1zM81 394h1v1h-1zM80 395h1v1h-1zM80 396h1v1h-1zM79 397h1v1h-1zM79 398h1v1h-1zM78 399h1v1h-1zM78 400h1v1h-1zM77 401h1v1h-1zM77 402h1v1h-1zM76 403h1v1h-1zM76 404h1v1h-1zM75 405h1v1h-1zM75 406h1v1h-1zM74 407h1v1h-1zM74 408h1v1h-1zM73 409h1v1h-1zM73 410h1v1h-1zM72 411h1v1h-1zM72 412h1v1h-1zM71 413h1v1h-1zM71 414h1v1h-1zM70 415h1v1h-1zM70 416h1v1h-1z" fill="#ff0000" shape-rendering="crispEdges" clip-path="url(#cm)" />
<g shape-rendering="crispEdges" fill="#000">
<rect x="8" y="4" width="1184" height="1"/>
<rect x="8" y="416" width="1184" height="1"/>
<rect x="8" y="4" width="1" height="413"/>
<rect x="1191" y="4" width="1" height="413"/>
<rect x="8" y="418" width="1184" height="1"/>
<rect x="8" y="547" width="1184" height="1"/>
<rect x="8" y="418" width="1" height="130"/>
<rect x="1191" y="418" width="1" height="130"/>
<rect x="8" y="549" width="1184" height="1"/>
<rect x="8" y="670" width="1184" height="1"/>
<rect x="8" y="549" width="1" height="122"/>
<rect x="1191" y="549" width="1" height="122"/>
</g>
<g shape-rendering="crispEdges">
<rect x="8" y="18" width="1184" height="2" fill="#ff0000"/>
<rect x="8" y="159" width="1184" height="2" fill="#ff0000"/>
<rect x="8" y="282" width="1184" height="2" fill="#00cc00"/>
<rect x="8" y="405" width="1184" height="2" fill="#3b4be0"/>
</g>
<g shape-rendering="crispEdges" fill="#c0c0c0" clip-path="url(#c2)">
<rect x="9" y="453" width="1" height="45"/>
<rect x="17" y="452" width="1" height="46"/>
<rect x="25" y="450" width="1" height="48"/>
<rect x="33" y="443" width="1" height="55"/>
<rect x="41" y="441" width="1" height="57"/>
<rect x="49" y="441" width="1" height="57"/>
<rect x="57" y="440" width="1" height="58"/>
<rect x="65" y="442" width="1" height="56"/>
<rect x="73" y="440" width="1" height="58"/>
<rect x="81" y="433" width="1" height="65"/>
<rect x="89" y="430" width="1" height="68"/>
<rect x="97" y="429" width="1" height="69"/>
<rect x="105" y="428" width="1" height="70"/>
<rect x="113" y="428" width="1" height="70"/>
<rect x="121" y="428" width="1" height="70"/>
<rect x="129" y="427" width="1" height="71"/>
<rect x="137" y="428" width="1" height="70"/>
<rect x="145" y="432" width="1" height="66"/>
<rect x="153" y="435" width="1" height="63"/>
<rect x="161" y="437" width="1" height="61"/>
<rect x="169" y="439" width="1" height="59"/>
<rect x="177" y="437" width="1" height="61"/>
<rect x="185" y="434" width="1" height="64"/>
<rect x="193" y="434" width="1" height="64"/>
<rect x="201" y="434" width="1" height="64"/>
<rect x="209" y="435" width="1" height="63"/>
<rect x="217" y="438" width="1" height="60"/>
<rect x="225" y="441" width="1" height="57"/>
<rect x="233" y="449" width="1" height="49"/>
<rect x="241" y="455" width="1" height="43"/>
<rect x="249" y="460" width="1" height="38"/>
<rect x="257" y="463" width="1" height="35"/>
<rect x="265" y="466" width="1" height="32"/>
<rect x="273" y="465" width="1" height="33"/>
<rect x="281" y="463" width="1" height="35"/>
<rect x="289" y="462" width="1" height="36"/>
<rect x="297" y="461" width="1" height="37"/>
<rect x="305" y="460" width="1" height="38"/>
<rect x="313" y="459" width="1" height="39"/>
<rect x="321" y="461" width="1" height="37"/>
<rect x="329" y="460" width="1" height="38"/>
<rect x="337" y="461" width="1" height="37"/>
<rect x="345" y="461" width="1" height="37"/>
<rect x="353" y="462" width="1" height="36"/>
<rect x="361" y="460" width="1" height="38"/>
<rect x="369" y="463" width="1" height="35"/>
<rect x="377" y="461" width="1" height="37"/>
<rect x="385" y="458" width="1" height="40"/>
<rect x="393" y="456" width="1" height="42"/>
<rect x="401" y="455" width="1" height="43"/>
<rect x="409" y="452" width="1" height="46"/>
<rect x="417" y="449" width="1" height="49"/>
<rect x="425" y="445" width="1" height="53"/>
<rect x="433" y="443" width="1" height="55"/>
<rect x="441" y="442" width="1" height="56"/>
<rect x="449" y="443" width="1" height="55"/>
<rect x="457" y="444" width="1" height="54"/>
<rect x="465" y="447" width="1" height="51"/>
<rect x="473" y="450" width="1" height="48"/>
<rect x="481" y="453" width="1" height="45"/>
<rect x="489" y="455" width="1" height="43"/>
<rect x="497" y="457" width="1" height="41"/>
<rect x="505" y="460" width="1" height="38"/>
<rect x="513" y="464" width="1" height="34"/>
<rect x="521" y="475" width="1" height="23"/>
<rect x="529" y="482" width="1" height="16"/>
<rect x="537" y="487" width="1" height="11"/>
<rect x="545" y="491" width="1" height="7"/>
<rect x="553" y="493" width="1" height="5"/>
<rect x="561" y="496" width="1" height="2"/>
<rect x="569" y="497" width="1" height="4"/>
<rect x="577" y="497" width="1" height="7"/>
<rect x="585" y="497" width="1" height="8"/>
<rect x="593" y="497" width="1" height="9"/>
<rect x="601" y="497" width="1" height="7"/>
<rect x="609" y="497" width="1" height="4"/>
<rect x="617" y="497" width="1" height="2"/>
<rect x="625" y="497" width="1" height="1"/>
<rect x="633" y="496" width="1" height="2"/>
<rect x="641" y="493" width="1" height="5"/>
<rect x="649" y="493" width="1" height="5"/>
<rect x="657" y="495" width="1" height="3"/>
<rect x="665" y="497" width="1" height="2"/>
<rect x="673" y="497" width="1" height="6"/>
<rect x="681" y="497" width="1" height="10"/>
<rect x="689" y="497" width="1" height="14"/>
<rect x="697" y="497" width="1" height="20"/>
<rect x="705" y="497" width="1" height="25"/>
<rect x="713" y="497" width="1" height="29"/>
<rect x="721" y="497" width="1" height="32"/>
<rect x="729" y="497" width="1" height="36"/>
<rect x="737" y="497" width="1" height="36"/>
<rect x="745" y="497" width="1" height="34"/>
<rect x="753" y="497" width="1" height="36"/>
<rect x="761" y="497" width="1" height="32"/>
<rect x="769" y="497" width="1" height="28"/>
<rect x="777" y="497" width="1" height="25"/>
<rect x="785" y="497" width="1" height="21"/>
<rect x="793" y="497" width="1" height="17"/>
<rect x="801" y="497" width="1" height="15"/>
<rect x="809" y="497" width="1" height="15"/>
<rect x="817" y="497" width="1" height="16"/>
<rect x="825" y="497" width="1" height="19"/>
<rect x="833" y="497" width="1" height="20"/>
<rect x="841" y="497" width="1" height="22"/>
<rect x="849" y="497" width="1" height="26"/>
<rect x="857" y="497" width="1" height="31"/>
<rect x="865" y="497" width="1" height="36"/>
<rect x="873" y="497" width="1" height="41"/>
<rect x="881" y="497" width="1" height="44"/>
<rect x="889" y="497" width="1" height="43"/>
<rect x="897" y="497" width="1" height="38"/>
<rect x="905" y="497" width="1" height="40"/>
<rect x="913" y="497" width="1" height="40"/>
<rect x="921" y="497" width="1" height="38"/>
<rect x="929" y="497" width="1" height="36"/>
<rect x="937" y="497" width="1" height="36"/>
<rect x="945" y="497" width="1" height="33"/>
<rect x="953" y="497" width="1" height="28"/>
<rect x="961" y="497" width="1" height="24"/>
<rect x="969" y="497" width="1" height="20"/>
<rect x="977" y="497" width="1" height="17"/>
<rect x="985" y="497" width="1" height="15"/>
<rect x="993" y="497" width="1" height="16"/>
<rect x="1001" y="497" width="1" height="19"/>
<rect x="1009" y="497" width="1" height="21"/>
<rect x="1017" y="497" width="1" height="27"/>
<rect x="1025" y="497" width="1" height="30"/>
<rect x="1033" y="497" width="1" height="32"/>
<rect x="1041" y="497" width="1" height="32"/>
<rect x="1049" y="497" width="1" height="31"/>
<rect x="1057" y="497" width="1" height="29"/>
<rect x="1065" y="497" width="1" height="24"/>
<rect x="1073" y="497" width="1" height="21"/>
<rect x="1081" y="497" width="1" height="19"/>
<rect x="1089" y="497" width="1" height="19"/>
<rect x="1097" y="497" width="1" height="11"/>
<rect x="1105" y="497" width="1" height="4"/>
<rect x="1121" y="494" width="1" height="4"/>
<rect x="1129" y="492" width="1" height="6"/>
<rect x="1137" y="486" width="1" height="12"/>
<rect x="1145" y="483" width="1" height="15"/>
<rect x="1153" y="482" width="1" height="16"/>
<rect x="1161" y="479" width="1" height="19"/>
<rect x="1169" y="478" width="1" height="20"/>
</g>
<path d="M138 428h2v1h-2zM143 428h5v1h-5zM151 428h3v1h-3zM130 429h2v1h-2zM135 429h3v1h-3zM154 429h2v1h-2zM159 429h5v1h-5zM123 430h1v1h-1zM127 430h3v1h-3zM167 430h5v1h-5zM119 431h4v1h-4zM175 431h5v1h-5zM113 432h3v1h-3zM183 432h5v1h-5zM106 433h2v1h-2zM111 433h2v1h-2zM191 433h5v1h-5zM199 433h5v1h-5zM207 433h1v1h-1zM103 434h3v1h-3zM208 434h4v1h-4zM98 435h2v1h-2zM215 435h5v1h-5zM223 435h5v1h-5zM231 435h2v1h-2zM95 436h3v1h-3zM233 436h3v1h-3zM239 437h1v1h-1zM90 438h2v1h-2zM240 438h3v1h-3zM87 439h3v1h-3zM243 439h1v1h-1zM83 440h1v1h-1zM247 440h1v1h-1zM79 441h4v1h-4zM248 441h3v1h-3zM251 442h1v1h-1zM73 443h3v1h-3zM255 443h1v1h-1zM71 444h2v1h-2zM256 444h3v1h-3zM66 445h2v1h-2zM259 445h1v1h-1zM472 445h4v1h-4zM479 445h5v1h-5zM63 446h3v1h-3zM463 446h5v1h-5zM471 446h1v1h-1zM487 446h5v1h-5zM57 447h3v1h-3zM263 447h3v1h-3zM451 447h1v1h-1zM455 447h5v1h-5zM495 447h5v1h-5zM55 448h2v1h-2zM266 448h2v1h-2zM447 448h4v1h-4zM503 448h1v1h-1zM442 449h2v1h-2zM504 449h3v1h-3zM49 450h3v1h-3zM271 450h2v1h-2zM440 450h2v1h-2zM507 450h1v1h-1zM47 451h2v1h-2zM273 451h2v1h-2zM439 451h1v1h-1zM511 451h2v1h-2zM275 452h1v1h-1zM435 452h1v1h-1zM513 452h3v1h-3zM43 453h1v1h-1zM431 453h4v1h-4zM41 454h2v1h-2zM279 454h2v1h-2zM423 454h5v1h-5zM519 454h2v1h-2zM40 455h1v1h-1zM281 455h3v1h-3zM419 455h1v1h-1zM521 455h2v1h-2zM39 456h1v1h-1zM287 456h3v1h-3zM415 456h4v1h-4zM523 456h1v1h-1zM290 457h2v1h-2zM411 457h1v1h-1zM295 458h1v1h-1zM399 458h5v1h-5zM407 458h4v1h-4zM527 458h2v1h-2zM35 459h1v1h-1zM296 459h4v1h-4zM359 459h5v1h-5zM391 459h5v1h-5zM529 459h2v1h-2zM34 460h1v1h-1zM303 460h1v1h-1zM335 460h5v1h-5zM343 460h5v1h-5zM351 460h5v1h-5zM367 460h5v1h-5zM375 460h5v1h-5zM383 460h5v1h-5zM531 460h1v1h-1zM33 461h1v1h-1zM304 461h4v1h-4zM311 461h5v1h-5zM319 461h5v1h-5zM327 461h5v1h-5zM31 462h2v1h-2zM535 462h1v1h-1zM536 463h1v1h-1zM537 464h2v1h-2zM539 465h1v1h-1zM26 466h2v1h-2zM25 467h1v1h-1zM543 467h2v1h-2zM24 468h1v1h-1zM545 468h2v1h-2zM23 469h1v1h-1zM547 469h1v1h-1zM18 472h2v1h-2zM551 472h2v1h-2zM17 473h1v1h-1zM553 473h2v1h-2zM15 474h2v1h-2zM555 474h1v1h-1zM559 476h1v1h-1zM11 477h1v1h-1zM560 477h1v1h-1zM10 478h1v1h-1zM561 478h2v1h-2zM7 479h3v1h-3zM563 479h1v1h-1zM567 481h1v1h-1zM568 482h1v1h-1zM569 483h2v1h-2zM571 484h1v1h-1zM575 486h1v1h-1zM1169 486h3v1h-3zM576 487h1v1h-1zM1167 487h2v1h-2zM577 488h2v1h-2zM579 489h1v1h-1zM1162 490h2v1h-2zM583 491h2v1h-2zM1161 491h1v1h-1zM585 492h2v1h-2zM1159 492h2v1h-2zM587 493h1v1h-1zM1154 494h2v1h-2zM591 495h2v1h-2zM1152 495h2v1h-2zM593 496h3v1h-3zM1151 496h1v1h-1zM663 497h5v1h-5zM671 497h5v1h-5zM679 497h4v1h-4zM599 498h1v1h-1zM655 498h5v1h-5zM683 498h1v1h-1zM687 498h1v1h-1zM1146 498h2v1h-2zM600 499h4v1h-4zM647 499h5v1h-5zM688 499h4v1h-4zM1144 499h2v1h-2zM607 500h5v1h-5zM639 500h5v1h-5zM695 500h1v1h-1zM1143 500h1v1h-1zM615 501h5v1h-5zM627 501h1v1h-1zM631 501h5v1h-5zM696 501h3v1h-3zM623 502h4v1h-4zM699 502h1v1h-1zM1138 502h2v1h-2zM703 503h2v1h-2zM1136 503h2v1h-2zM705 504h2v1h-2zM1135 504h1v1h-1zM707 505h1v1h-1zM1131 506h1v1h-1zM711 507h2v1h-2zM1129 507h2v1h-2zM713 508h2v1h-2zM1127 508h2v1h-2zM715 509h1v1h-1zM1122 510h2v1h-2zM719 511h1v1h-1zM1120 511h2v1h-2zM720 512h2v1h-2zM1119 512h1v1h-1zM722 513h2v1h-2zM1114 514h2v1h-2zM727 515h2v1h-2zM1112 515h2v1h-2zM729 516h2v1h-2zM839 516h5v1h-5zM847 516h5v1h-5zM1111 516h1v1h-1zM731 517h1v1h-1zM827 517h1v1h-1zM831 517h5v1h-5zM855 517h5v1h-5zM1107 517h1v1h-1zM823 518h4v1h-4zM863 518h1v1h-1zM1007 518h5v1h-5zM1015 518h5v1h-5zM1023 518h5v1h-5zM1104 518h3v1h-3zM735 519h2v1h-2zM818 519h2v1h-2zM864 519h3v1h-3zM1002 519h2v1h-2zM1031 519h5v1h-5zM1103 519h1v1h-1zM737 520h2v1h-2zM815 520h3v1h-3zM867 520h1v1h-1zM999 520h3v1h-3zM1039 520h5v1h-5zM1099 520h1v1h-1zM739 521h1v1h-1zM810 521h2v1h-2zM871 521h2v1h-2zM994 521h2v1h-2zM1047 521h1v1h-1zM1095 521h4v1h-4zM743 522h1v1h-1zM807 522h3v1h-3zM873 522h2v1h-2zM991 522h3v1h-3zM1048 522h4v1h-4zM1091 522h1v1h-1zM744 523h3v1h-3zM803 523h1v1h-1zM875 523h1v1h-1zM987 523h1v1h-1zM1055 523h5v1h-5zM1087 523h4v1h-4zM747 524h1v1h-1zM799 524h4v1h-4zM879 524h2v1h-2zM983 524h4v1h-4zM1063 524h5v1h-5zM1071 524h5v1h-5zM1079 524h5v1h-5zM751 525h1v1h-1zM794 525h2v1h-2zM881 525h2v1h-2zM752 526h4v1h-4zM791 526h3v1h-3zM883 526h1v1h-1zM978 526h2v1h-2zM759 527h1v1h-1zM787 527h1v1h-1zM887 527h2v1h-2zM975 527h3v1h-3zM760 528h4v1h-4zM783 528h4v1h-4zM889 528h3v1h-3zM767 529h5v1h-5zM775 529h5v1h-5zM895 529h1v1h-1zM971 529h1v1h-1zM896 530h3v1h-3zM967 530h4v1h-4zM899 531h1v1h-1zM961 531h3v1h-3zM903 532h1v1h-1zM959 532h2v1h-2zM904 533h4v1h-4zM955 533h1v1h-1zM952 534h3v1h-3zM911 535h5v1h-5zM951 535h1v1h-1zM919 536h5v1h-5zM943 536h5v1h-5zM927 537h5v1h-5zM935 537h5v1h-5z" fill="#ff0000" shape-rendering="crispEdges" clip-path="url(#c2)"/>
<path d="M190 581h8v1h-8zM424 581h3v1h-3zM184 582h6v1h-6zM198 582h6v1h-6zM422 582h2v1h-2zM427 582h3v1h-3zM180 583h4v1h-4zM204 583h4v1h-4zM419 583h3v1h-3zM430 583h2v1h-2zM177 584h3v1h-3zM208 584h2v1h-2zM416 584h3v1h-3zM432 584h6v1h-6zM175 585h2v1h-2zM210 585h1v1h-1zM414 585h2v1h-2zM438 585h6v1h-6zM33 586h1v1h-1zM81 586h18v1h-18zM126 586h5v1h-5zM174 586h1v1h-1zM211 586h1v1h-1zM411 586h3v1h-3zM444 586h4v1h-4zM32 587h1v1h-1zM34 587h2v1h-2zM79 587h2v1h-2zM99 587h3v1h-3zM120 587h6v1h-6zM131 587h2v1h-2zM172 587h2v1h-2zM212 587h1v1h-1zM312 587h2v1h-2zM408 587h3v1h-3zM448 587h11v1h-11zM30 588h2v1h-2zM36 588h1v1h-1zM78 588h1v1h-1zM102 588h2v1h-2zM118 588h2v1h-2zM133 588h2v1h-2zM170 588h2v1h-2zM213 588h1v1h-1zM308 588h4v1h-4zM314 588h1v1h-1zM406 588h2v1h-2zM459 588h2v1h-2zM29 589h1v1h-1zM37 589h1v1h-1zM76 589h2v1h-2zM104 589h6v1h-6zM115 589h3v1h-3zM135 589h2v1h-2zM168 589h2v1h-2zM213 589h1v1h-1zM302 589h6v1h-6zM314 589h1v1h-1zM403 589h3v1h-3zM461 589h2v1h-2zM28 590h1v1h-1zM38 590h2v1h-2zM74 590h2v1h-2zM110 590h5v1h-5zM137 590h3v1h-3zM164 590h4v1h-4zM214 590h1v1h-1zM280 590h6v1h-6zM294 590h8v1h-8zM315 590h1v1h-1zM361 590h1v1h-1zM398 590h5v1h-5zM463 590h2v1h-2zM9 591h1v1h-1zM26 591h2v1h-2zM40 591h1v1h-1zM73 591h1v1h-1zM140 591h4v1h-4zM160 591h4v1h-4zM215 591h1v1h-1zM278 591h2v1h-2zM286 591h8v1h-8zM316 591h1v1h-1zM329 591h2v1h-2zM359 591h2v1h-2zM362 591h1v1h-1zM377 591h5v1h-5zM390 591h8v1h-8zM465 591h1v1h-1zM10 592h2v1h-2zM25 592h1v1h-1zM41 592h3v1h-3zM56 592h2v1h-2zM72 592h1v1h-1zM144 592h4v1h-4zM158 592h2v1h-2zM216 592h1v1h-1zM222 592h4v1h-4zM275 592h3v1h-3zM316 592h1v1h-1zM328 592h1v1h-1zM331 592h2v1h-2zM358 592h1v1h-1zM362 592h1v1h-1zM376 592h1v1h-1zM382 592h8v1h-8zM466 592h2v1h-2zM12 593h2v1h-2zM23 593h2v1h-2zM44 593h4v1h-4zM52 593h4v1h-4zM58 593h2v1h-2zM70 593h2v1h-2zM148 593h4v1h-4zM155 593h3v1h-3zM217 593h5v1h-5zM225 593h1v1h-1zM273 593h2v1h-2zM317 593h1v1h-1zM327 593h1v1h-1zM333 593h2v1h-2zM356 593h2v1h-2zM363 593h1v1h-1zM376 593h1v1h-1zM468 593h2v1h-2zM488 593h11v1h-11zM14 594h1v1h-1zM21 594h2v1h-2zM48 594h4v1h-4zM60 594h2v1h-2zM69 594h1v1h-1zM152 594h3v1h-3zM226 594h1v1h-1zM272 594h1v1h-1zM318 594h1v1h-1zM326 594h1v1h-1zM335 594h2v1h-2zM354 594h2v1h-2zM363 594h1v1h-1zM375 594h1v1h-1zM470 594h1v1h-1zM484 594h4v1h-4zM499 594h2v1h-2zM1137 594h2v1h-2zM15 595h2v1h-2zM19 595h2v1h-2zM62 595h1v1h-1zM68 595h1v1h-1zM226 595h1v1h-1zM271 595h1v1h-1zM318 595h1v1h-1zM325 595h1v1h-1zM337 595h3v1h-3zM352 595h2v1h-2zM364 595h1v1h-1zM374 595h1v1h-1zM471 595h2v1h-2zM478 595h6v1h-6zM501 595h2v1h-2zM1136 595h1v1h-1zM1139 595h3v1h-3zM17 596h2v1h-2zM63 596h2v1h-2zM66 596h2v1h-2zM227 596h1v1h-1zM270 596h1v1h-1zM319 596h1v1h-1zM324 596h1v1h-1zM340 596h4v1h-4zM348 596h4v1h-4zM365 596h1v1h-1zM374 596h1v1h-1zM473 596h5v1h-5zM503 596h2v1h-2zM1135 596h1v1h-1zM1142 596h2v1h-2zM65 597h1v1h-1zM227 597h1v1h-1zM269 597h1v1h-1zM320 597h1v1h-1zM323 597h1v1h-1zM344 597h4v1h-4zM365 597h1v1h-1zM373 597h1v1h-1zM505 597h1v1h-1zM1104 597h2v1h-2zM1134 597h1v1h-1zM1144 597h2v1h-2zM228 598h1v1h-1zM268 598h1v1h-1zM320 598h1v1h-1zM322 598h1v1h-1zM366 598h1v1h-1zM372 598h1v1h-1zM506 598h2v1h-2zM1102 598h2v1h-2zM1106 598h2v1h-2zM1133 598h1v1h-1zM1146 598h2v1h-2zM1161 598h5v1h-5zM228 599h1v1h-1zM267 599h1v1h-1zM321 599h1v1h-1zM367 599h1v1h-1zM372 599h1v1h-1zM508 599h2v1h-2zM1099 599h3v1h-3zM1108 599h2v1h-2zM1133 599h1v1h-1zM1148 599h2v1h-2zM1159 599h2v1h-2zM1166 599h3v1h-3zM229 600h1v1h-1zM266 600h1v1h-1zM367 600h1v1h-1zM371 600h1v1h-1zM510 600h1v1h-1zM1097 600h2v1h-2zM1110 600h1v1h-1zM1132 600h1v1h-1zM1150 600h1v1h-1zM1157 600h2v1h-2zM229 601h1v1h-1zM264 601h2v1h-2zM368 601h1v1h-1zM370 601h1v1h-1zM511 601h2v1h-2zM640 601h2v1h-2zM1097 601h1v1h-1zM1111 601h2v1h-2zM1131 601h1v1h-1zM1151 601h2v1h-2zM1155 601h2v1h-2zM230 602h1v1h-1zM260 602h4v1h-4zM368 602h1v1h-1zM370 602h1v1h-1zM513 602h1v1h-1zM617 602h3v1h-3zM638 602h2v1h-2zM642 602h2v1h-2zM1096 602h1v1h-1zM1113 602h13v1h-13zM1130 602h1v1h-1zM1153 602h2v1h-2zM230 603h1v1h-1zM254 603h6v1h-6zM369 603h1v1h-1zM513 603h1v1h-1zM615 603h2v1h-2zM620 603h4v1h-4zM635 603h3v1h-3zM644 603h2v1h-2zM1096 603h1v1h-1zM1126 603h4v1h-4zM231 604h1v1h-1zM248 604h6v1h-6zM514 604h1v1h-1zM613 604h2v1h-2zM624 604h11v1h-11zM646 604h1v1h-1zM1095 604h1v1h-1zM231 605h1v1h-1zM244 605h4v1h-4zM514 605h1v1h-1zM611 605h2v1h-2zM647 605h2v1h-2zM1095 605h1v1h-1zM232 606h1v1h-1zM240 606h4v1h-4zM514 606h1v1h-1zM609 606h2v1h-2zM649 606h1v1h-1zM1094 606h1v1h-1zM232 607h1v1h-1zM236 607h4v1h-4zM515 607h1v1h-1zM608 607h1v1h-1zM650 607h1v1h-1zM1094 607h1v1h-1zM233 608h3v1h-3zM515 608h1v1h-1zM606 608h2v1h-2zM651 608h1v1h-1zM785 608h3v1h-3zM1093 608h1v1h-1zM516 609h1v1h-1zM605 609h1v1h-1zM652 609h1v1h-1zM784 609h1v1h-1zM788 609h4v1h-4zM968 609h6v1h-6zM1093 609h1v1h-1zM516 610h1v1h-1zM604 610h1v1h-1zM653 610h1v1h-1zM782 610h2v1h-2zM792 610h4v1h-4zM953 610h5v1h-5zM964 610h4v1h-4zM974 610h5v1h-5zM1065 610h2v1h-2zM1092 610h1v1h-1zM516 611h1v1h-1zM602 611h2v1h-2zM653 611h1v1h-1zM781 611h1v1h-1zM796 611h4v1h-4zM952 611h1v1h-1zM958 611h6v1h-6zM979 611h3v1h-3zM1064 611h1v1h-1zM1067 611h3v1h-3zM1092 611h1v1h-1zM517 612h1v1h-1zM601 612h1v1h-1zM654 612h1v1h-1zM780 612h1v1h-1zM800 612h2v1h-2zM951 612h1v1h-1zM982 612h2v1h-2zM1063 612h1v1h-1zM1070 612h2v1h-2zM1091 612h1v1h-1zM517 613h1v1h-1zM599 613h2v1h-2zM655 613h1v1h-1zM766 613h8v1h-8zM778 613h2v1h-2zM802 613h2v1h-2zM950 613h1v1h-1zM984 613h2v1h-2zM1062 613h1v1h-1zM1072 613h4v1h-4zM1091 613h1v1h-1zM517 614h1v1h-1zM598 614h1v1h-1zM656 614h1v1h-1zM761 614h5v1h-5zM774 614h4v1h-4zM804 614h2v1h-2zM948 614h2v1h-2zM986 614h2v1h-2zM1061 614h1v1h-1zM1076 614h4v1h-4zM1090 614h1v1h-1zM518 615h1v1h-1zM552 615h2v1h-2zM585 615h3v1h-3zM596 615h2v1h-2zM657 615h1v1h-1zM761 615h1v1h-1zM806 615h1v1h-1zM897 615h1v1h-1zM947 615h1v1h-1zM988 615h2v1h-2zM1060 615h1v1h-1zM1080 615h4v1h-4zM1090 615h1v1h-1zM518 616h1v1h-1zM548 616h4v1h-4zM554 616h1v1h-1zM569 616h2v1h-2zM583 616h2v1h-2zM588 616h4v1h-4zM594 616h2v1h-2zM658 616h1v1h-1zM760 616h1v1h-1zM807 616h2v1h-2zM896 616h1v1h-1zM898 616h1v1h-1zM946 616h1v1h-1zM990 616h1v1h-1zM1059 616h1v1h-1zM1084 616h4v1h-4zM1089 616h1v1h-1zM518 617h1v1h-1zM536 617h12v1h-12zM554 617h1v1h-1zM568 617h1v1h-1zM571 617h3v1h-3zM581 617h2v1h-2zM592 617h2v1h-2zM659 617h1v1h-1zM760 617h1v1h-1zM809 617h2v1h-2zM895 617h1v1h-1zM898 617h1v1h-1zM945 617h1v1h-1zM991 617h2v1h-2zM1058 617h1v1h-1zM1088 617h2v1h-2zM519 618h1v1h-1zM532 618h4v1h-4zM555 618h1v1h-1zM567 618h1v1h-1zM574 618h2v1h-2zM579 618h2v1h-2zM660 618h2v1h-2zM759 618h1v1h-1zM811 618h3v1h-3zM894 618h1v1h-1zM899 618h1v1h-1zM944 618h1v1h-1zM993 618h1v1h-1zM1057 618h1v1h-1zM519 619h1v1h-1zM529 619h3v1h-3zM556 619h1v1h-1zM567 619h1v1h-1zM576 619h3v1h-3zM662 619h1v1h-1zM759 619h1v1h-1zM814 619h2v1h-2zM833 619h2v1h-2zM893 619h1v1h-1zM900 619h1v1h-1zM920 619h11v1h-11zM942 619h2v1h-2zM994 619h2v1h-2zM1055 619h2v1h-2zM520 620h1v1h-1zM527 620h2v1h-2zM557 620h1v1h-1zM566 620h1v1h-1zM663 620h1v1h-1zM758 620h1v1h-1zM816 620h2v1h-2zM832 620h1v1h-1zM835 620h2v1h-2zM893 620h1v1h-1zM901 620h1v1h-1zM918 620h2v1h-2zM931 620h2v1h-2zM941 620h1v1h-1zM996 620h1v1h-1zM1053 620h2v1h-2zM520 621h1v1h-1zM526 621h1v1h-1zM557 621h1v1h-1zM565 621h1v1h-1zM664 621h1v1h-1zM758 621h1v1h-1zM818 621h2v1h-2zM830 621h2v1h-2zM837 621h2v1h-2zM892 621h1v1h-1zM901 621h1v1h-1zM915 621h3v1h-3zM933 621h2v1h-2zM940 621h1v1h-1zM997 621h1v1h-1zM1051 621h2v1h-2zM520 622h1v1h-1zM524 622h2v1h-2zM558 622h1v1h-1zM564 622h1v1h-1zM665 622h11v1h-11zM757 622h1v1h-1zM820 622h2v1h-2zM829 622h1v1h-1zM839 622h2v1h-2zM891 622h1v1h-1zM902 622h1v1h-1zM913 622h2v1h-2zM935 622h2v1h-2zM938 622h2v1h-2zM998 622h2v1h-2zM1048 622h3v1h-3zM521 623h3v1h-3zM559 623h1v1h-1zM563 623h1v1h-1zM676 623h4v1h-4zM744 623h2v1h-2zM757 623h1v1h-1zM822 623h1v1h-1zM828 623h1v1h-1zM841 623h1v1h-1zM890 623h1v1h-1zM903 623h1v1h-1zM911 623h2v1h-2zM937 623h1v1h-1zM1000 623h1v1h-1zM1044 623h4v1h-4zM521 624h1v1h-1zM560 624h1v1h-1zM563 624h1v1h-1zM680 624h3v1h-3zM742 624h2v1h-2zM746 624h1v1h-1zM756 624h1v1h-1zM823 624h2v1h-2zM826 624h2v1h-2zM842 624h2v1h-2zM889 624h1v1h-1zM904 624h1v1h-1zM909 624h2v1h-2zM1001 624h9v1h-9zM1040 624h4v1h-4zM560 625h1v1h-1zM562 625h1v1h-1zM683 625h3v1h-3zM739 625h3v1h-3zM747 625h1v1h-1zM756 625h1v1h-1zM825 625h1v1h-1zM844 625h1v1h-1zM888 625h1v1h-1zM904 625h1v1h-1zM907 625h2v1h-2zM1010 625h1v1h-1zM1038 625h2v1h-2zM561 626h1v1h-1zM686 626h2v1h-2zM737 626h2v1h-2zM748 626h1v1h-1zM755 626h1v1h-1zM845 626h1v1h-1zM888 626h1v1h-1zM905 626h2v1h-2zM1011 626h1v1h-1zM1035 626h3v1h-3zM688 627h2v1h-2zM736 627h1v1h-1zM749 627h1v1h-1zM755 627h1v1h-1zM846 627h2v1h-2zM887 627h1v1h-1zM1012 627h2v1h-2zM1025 627h10v1h-10zM690 628h2v1h-2zM735 628h1v1h-1zM750 628h1v1h-1zM754 628h1v1h-1zM848 628h1v1h-1zM886 628h1v1h-1zM1014 628h1v1h-1zM1023 628h2v1h-2zM692 629h2v1h-2zM734 629h1v1h-1zM751 629h1v1h-1zM754 629h1v1h-1zM849 629h2v1h-2zM885 629h1v1h-1zM1015 629h1v1h-1zM1021 629h2v1h-2zM694 630h1v1h-1zM733 630h1v1h-1zM752 630h2v1h-2zM851 630h2v1h-2zM885 630h1v1h-1zM1016 630h1v1h-1zM1019 630h2v1h-2zM695 631h2v1h-2zM733 631h1v1h-1zM753 631h1v1h-1zM853 631h2v1h-2zM884 631h1v1h-1zM1017 631h2v1h-2zM697 632h2v1h-2zM712 632h4v1h-4zM732 632h1v1h-1zM855 632h2v1h-2zM883 632h1v1h-1zM699 633h3v1h-3zM710 633h2v1h-2zM716 633h4v1h-4zM731 633h1v1h-1zM857 633h10v1h-10zM882 633h1v1h-1zM702 634h2v1h-2zM707 634h3v1h-3zM720 634h6v1h-6zM730 634h1v1h-1zM867 634h2v1h-2zM882 634h1v1h-1zM704 635h3v1h-3zM726 635h4v1h-4zM869 635h2v1h-2zM880 635h2v1h-2zM871 636h2v1h-2zM876 636h4v1h-4zM873 637h3v1h-3z" fill="#1e90ff" shape-rendering="crispEdges" clip-path="url(#c3)" />
<g shape-rendering="crispEdges">
<line x1="9" y1="586.5" x2="1191" y2="586.5" stroke="#c0c0c0" stroke-width="1" stroke-dasharray="3 3" stroke-dashoffset="-1"/>
<line x1="9" y1="634.5" x2="1191" y2="634.5" stroke="#c0c0c0" stroke-width="1" stroke-dasharray="3 3" stroke-dashoffset="-1"/>
</g>
<g shape-rendering="crispEdges" fill="#000">
<rect x="1192" y="50" width="2" height="1"/>
<rect x="1192" y="83" width="2" height="1"/>
<rect x="1192" y="116" width="2" height="1"/>
<rect x="1192" y="149" width="2" height="1"/>
<rect x="1192" y="182" width="2" height="1"/>
<rect x="1192" y="215" width="2" height="1"/>
<rect x="1192" y="249" width="2" height="1"/>
<rect x="1192" y="314" width="2" height="1"/>
<rect x="1192" y="347" width="2" height="1"/>
<rect x="1192" y="380" width="2" height="1"/>
<rect x="1192" y="413" width="2" height="1"/>
<rect x="1192" y="17" width="2" height="1"/>
<rect x="1192" y="158" width="2" height="1"/>
<rect x="1192" y="281" width="2" height="1"/>
<rect x="1192" y="497" width="1" height="1"/>
<rect x="1192" y="420" width="1" height="1"/>
<rect x="1192" y="546" width="1" height="1"/>
<rect x="1192" y="551" width="1" height="1"/>
<rect x="9" y="671" width="1" height="3"/>
<rect x="73" y="671" width="1" height="3"/>
<rect x="137" y="671" width="1" height="3"/>
<rect x="201" y="671" width="1" height="3"/>
<rect x="265" y="671" width="1" height="3"/>
<rect x="329" y="671" width="1" height="3"/>
<rect x="393" y="671" width="1" height="3"/>
<rect x="457" y="671" width="1" height="3"/>
<rect x="521" y="671" width="1" height="3"/>
<rect x="585" y="671" width="1" height="3"/>
<rect x="649" y="671" width="1" height="3"/>
<rect x="713" y="671" width="1" height="3"/>
<rect x="777" y="671" width="1" height="3"/>
<rect x="841" y="671" width="1" height="3"/>
<rect x="905" y="671" width="1" height="3"/>
<rect x="969" y="671" width="1" height="3"/>
<rect x="1033" y="671" width="1" height="3"/>
<rect x="1097" y="671" width="1" height="3"/>
<rect x="1161" y="671" width="1" height="3"/>
</g>
<text x="1197" y="53.6" fill="#000" textLength="37.3" lengthAdjust="spacingAndGlyphs" stroke="#000" stroke-width="0.2" style="font-family:'Liberation Sans',sans-serif;font-size:9.8px;text-rendering:geometricPrecision;filter:grayscale(1)">4609.535</text>
<text x="1197" y="86.6" fill="#000" textLength="37.3" lengthAdjust="spacingAndGlyphs" stroke="#000" stroke-width="0.2" style="font-family:'Liberation Sans',sans-serif;font-size:9.8px;text-rendering:geometricPrecision;filter:grayscale(1)">4582.970</text>
<text x="1197" y="119.6" fill="#000" textLength="37.3" lengthAdjust="spacingAndGlyphs" stroke="#000" stroke-width="0.2" style="font-family:'Liberation Sans',sans-serif;font-size:9.8px;text-rendering:geometricPrecision;filter:grayscale(1)">4556.405</text>
<text x="1197" y="152.6" fill="#000" textLength="37.3" lengthAdjust="spacingAndGlyphs" stroke="#000" stroke-width="0.2" style="font-family:'Liberation Sans',sans-serif;font-size:9.8px;text-rendering:geometricPrecision;filter:grayscale(1)">4529.035</text>
<text x="1197" y="185.6" fill="#000" textLength="37.3" lengthAdjust="spacingAndGlyphs" stroke="#000" stroke-width="0.2" style="font-family:'Liberation Sans',sans-serif;font-size:9.8px;text-rendering:geometricPrecision;filter:grayscale(1)">4502.470</text>
<text x="1197" y="218.6" fill="#000" textLength="37.3" lengthAdjust="spacingAndGlyphs" stroke="#000" stroke-width="0.2" style="font-family:'Liberation Sans',sans-serif;font-size:9.8px;text-rendering:geometricPrecision;filter:grayscale(1)">4475.905</text>
<text x="1197" y="252.6" fill="#000" textLength="37.3" lengthAdjust="spacingAndGlyphs" stroke="#000" stroke-width="0.2" style="font-family:'Liberation Sans',sans-serif;font-size:9.8px;text-rendering:geometricPrecision;filter:grayscale(1)">4448.535</text>
<text x="1197" y="317.6" fill="#000" textLength="37.3" lengthAdjust="spacingAndGlyphs" stroke="#000" stroke-width="0.2" style="font-family:'Liberation Sans',sans-serif;font-size:9.8px;text-rendering:geometricPrecision;filter:grayscale(1)">4395.405</text>
<text x="1197" y="350.6" fill="#000" textLength="37.3" lengthAdjust="spacingAndGlyphs" stroke="#000" stroke-width="0.2" style="font-family:'Liberation Sans',sans-serif;font-size:9.8px;text-rendering:geometricPrecision;filter:grayscale(1)">4368.035</text>
<text x="1197" y="383.6" fill="#000" textLength="37.3" lengthAdjust="spacingAndGlyphs" stroke="#000" stroke-width="0.2" style="font-family:'Liberation Sans',sans-serif;font-size:9.8px;text-rendering:geometricPrecision;filter:grayscale(1)">4341.470</text>
<text x="1197" y="416.6" fill="#000" textLength="37.3" lengthAdjust="spacingAndGlyphs" stroke="#000" stroke-width="0.2" style="font-family:'Liberation Sans',sans-serif;font-size:9.8px;text-rendering:geometricPrecision;filter:grayscale(1)">4314.905</text>
<rect x="1194" y="13" width="44" height="11" fill="#ff0000" shape-rendering="crispEdges"/>
<text x="1197" y="22" fill="#fff" textLength="37.3" lengthAdjust="spacingAndGlyphs" stroke="#fff" stroke-width="0.2" style="font-family:'Liberation Sans',sans-serif;font-size:9.8px;text-rendering:geometricPrecision;filter:grayscale(1)">4635.000</text>
<rect x="1194" y="154" width="44" height="11" fill="#ff0000" shape-rendering="crispEdges"/>
<text x="1197" y="163" fill="#fff" textLength="37.3" lengthAdjust="spacingAndGlyphs" stroke="#fff" stroke-width="0.2" style="font-family:'Liberation Sans',sans-serif;font-size:9.8px;text-rendering:geometricPrecision;filter:grayscale(1)">4520.000</text>
<rect x="1194" y="219" width="44" height="11" fill="#000000" shape-rendering="crispEdges"/>
<text x="1197" y="228" fill="#fff" textLength="37.3" lengthAdjust="spacingAndGlyphs" stroke="#fff" stroke-width="0.2" style="font-family:'Liberation Sans',sans-serif;font-size:9.8px;text-rendering:geometricPrecision;filter:grayscale(1)">4468.250</text>
<rect x="1194" y="277" width="44" height="11" fill="#00cc00" shape-rendering="crispEdges"/>
<text x="1197" y="286" fill="#fff" textLength="37.3" lengthAdjust="spacingAndGlyphs" stroke="#fff" stroke-width="0.2" style="font-family:'Liberation Sans',sans-serif;font-size:9.8px;text-rendering:geometricPrecision;filter:grayscale(1)">4420.000</text>
<rect x="1194" y="400" width="44" height="11" fill="#3b4be0" shape-rendering="crispEdges"/>
<text x="1197" y="409" fill="#fff" textLength="37.3" lengthAdjust="spacingAndGlyphs" stroke="#fff" stroke-width="0.2" style="font-family:'Liberation Sans',sans-serif;font-size:9.8px;text-rendering:geometricPrecision;filter:grayscale(1)">4320.000</text>
<text x="1195" y="429" fill="#000" textLength="27.5" lengthAdjust="spacingAndGlyphs" stroke="#000" stroke-width="0.2" style="font-family:'Liberation Sans',sans-serif;font-size:9.8px;text-rendering:geometricPrecision;filter:grayscale(1)">52.889</text>
<text x="1195" y="501" fill="#000" textLength="17.5" lengthAdjust="spacingAndGlyphs" stroke="#000" stroke-width="0.2" style="font-family:'Liberation Sans',sans-serif;font-size:9.8px;text-rendering:geometricPrecision;filter:grayscale(1)">0.00</text>
<text x="1195" y="544" fill="#000" textLength="35.5" lengthAdjust="spacingAndGlyphs" stroke="#000" stroke-width="0.2" style="font-family:'Liberation Sans',sans-serif;font-size:9.8px;text-rendering:geometricPrecision;filter:grayscale(1)">-34.2569</text>
<text x="1195.5" y="560" fill="#000" textLength="13.6" lengthAdjust="spacingAndGlyphs" stroke="#000" stroke-width="0.2" style="font-family:'Liberation Sans',sans-serif;font-size:9.8px;text-rendering:geometricPrecision;filter:grayscale(1)">100</text>
<text x="1193.5" y="590" fill="#000" textLength="9.6" lengthAdjust="spacingAndGlyphs" stroke="#000" stroke-width="0.2" style="font-family:'Liberation Sans',sans-serif;font-size:9.8px;text-rendering:geometricPrecision;filter:grayscale(1)">70</text>
<text x="1193.5" y="638" fill="#000" textLength="9.6" lengthAdjust="spacingAndGlyphs" stroke="#000" stroke-width="0.2" style="font-family:'Liberation Sans',sans-serif;font-size:9.8px;text-rendering:geometricPrecision;filter:grayscale(1)">30</text>
<text x="1195" y="667" fill="#000" textLength="5.0" lengthAdjust="spacingAndGlyphs" stroke="#000" stroke-width="0.2" style="font-family:'Liberation Sans',sans-serif;font-size:9.8px;text-rendering:geometricPrecision;filter:grayscale(1)">0</text>
<path d="M12 11h7l-3.5 4z" fill="#000"/>
<text x="24" y="16" fill="#000" textLength="45.6" lengthAdjust="spacingAndGlyphs" stroke="#000" stroke-width="0.2" style="font-family:'Liberation Sans',sans-serif;font-size:9.8px;text-rendering:geometricPrecision;filter:grayscale(1)">SP500-,H4</text>
<text x="75.3" y="16" fill="#000" textLength="37.5" lengthAdjust="spacingAndGlyphs" stroke="#000" stroke-width="0.2" style="font-family:'Liberation Sans',sans-serif;font-size:9.8px;text-rendering:geometricPrecision;filter:grayscale(1)">4471.750</text>
<text x="115.8" y="16" fill="#000" textLength="37.5" lengthAdjust="spacingAndGlyphs" stroke="#000" stroke-width="0.2" style="font-family:'Liberation Sans',sans-serif;font-size:9.8px;text-rendering:geometricPrecision;filter:grayscale(1)">4473.250</text>
<text x="156.8" y="16" fill="#000" textLength="37.7" lengthAdjust="spacingAndGlyphs" stroke="#000" stroke-width="0.2" style="font-family:'Liberation Sans',sans-serif;font-size:9.8px;text-rendering:geometricPrecision;filter:grayscale(1)">4467.250</text>
<text x="197.8" y="16" fill="#000" textLength="37.8" lengthAdjust="spacingAndGlyphs" stroke="#000" stroke-width="0.2" style="font-family:'Liberation Sans',sans-serif;font-size:9.8px;text-rendering:geometricPrecision;filter:grayscale(1)">4468.250</text>
<text x="13" y="431" fill="#000" textLength="65.6" lengthAdjust="spacingAndGlyphs" stroke="#000" stroke-width="0.2" style="font-family:'Liberation Sans',sans-serif;font-size:9.8px;text-rendering:geometricPrecision;filter:grayscale(1)">MACD(12,26,9)</text>
<text x="82.6" y="431" fill="#000" textLength="32.0" lengthAdjust="spacingAndGlyphs" stroke="#000" stroke-width="0.2" style="font-family:'Liberation Sans',sans-serif;font-size:9.8px;text-rendering:geometricPrecision;filter:grayscale(1)">13.4195</text>
<text x="117.3" y="431" fill="#000" textLength="27.3" lengthAdjust="spacingAndGlyphs" stroke="#000" stroke-width="0.2" style="font-family:'Liberation Sans',sans-serif;font-size:9.8px;text-rendering:geometricPrecision;filter:grayscale(1)">6.3731</text>
<text x="13" y="562" fill="#000" textLength="31.4" lengthAdjust="spacingAndGlyphs" stroke="#000" stroke-width="0.2" style="font-family:'Liberation Sans',sans-serif;font-size:9.8px;text-rendering:geometricPrecision;filter:grayscale(1)">RSI(14)</text>
<text x="47.6" y="562" fill="#000" textLength="32.4" lengthAdjust="spacingAndGlyphs" stroke="#000" stroke-width="0.2" style="font-family:'Liberation Sans',sans-serif;font-size:9.8px;text-rendering:geometricPrecision;filter:grayscale(1)">59.1700</text>
<text x="8.3" y="683" fill="#000" textLength="51.7" lengthAdjust="spacingAndGlyphs" stroke="#000" stroke-width="0.2" style="font-family:'Liberation Sans',sans-serif;font-size:9.8px;text-rendering:geometricPrecision;filter:grayscale(1)">17 Mar 2022</text>
<text x="72.3" y="683" fill="#000" textLength="54.2" lengthAdjust="spacingAndGlyphs" stroke="#000" stroke-width="0.2" style="font-family:'Liberation Sans',sans-serif;font-size:9.8px;text-rendering:geometricPrecision;filter:grayscale(1)">18 Mar 12:00</text>
<text x="136.3" y="683" fill="#000" textLength="54.2" lengthAdjust="spacingAndGlyphs" stroke="#000" stroke-width="0.2" style="font-family:'Liberation Sans',sans-serif;font-size:9.8px;text-rendering:geometricPrecision;filter:grayscale(1)">21 Mar 16:00</text>
<text x="200.3" y="683" fill="#000" textLength="54.2" lengthAdjust="spacingAndGlyphs" stroke="#000" stroke-width="0.2" style="font-family:'Liberation Sans',sans-serif;font-size:9.8px;text-rendering:geometricPrecision;filter:grayscale(1)">23 Mar 00:00</text>
<text x="264.3" y="683" fill="#000" textLength="54.2" lengthAdjust="spacingAndGlyphs" stroke="#000" stroke-width="0.2" style="font-family:'Liberation Sans',sans-serif;font-size:9.8px;text-rendering:geometricPrecision;filter:grayscale(1)">24 Mar 08:00</text>
<text x="328.3" y="683" fill="#000" textLength="54.2" lengthAdjust="spacingAndGlyphs" stroke="#000" stroke-width="0.2" style="font-family:'Liberation Sans',sans-serif;font-size:9.8px;text-rendering:geometricPrecision;filter:grayscale(1)">25 Mar 16:00</text>
<text x="392.3" y="683" fill="#000" textLength="54.2" lengthAdjust="spacingAndGlyphs" stroke="#000" stroke-width="0.2" style="font-family:'Liberation Sans',sans-serif;font-size:9.8px;text-rendering:geometricPrecision;filter:grayscale(1)">29 Mar 00:00</text>
<text x="456.3" y="683" fill="#000" textLength="54.2" lengthAdjust="spacingAndGlyphs" stroke="#000" stroke-width="0.2" style="font-family:'Liberation Sans',sans-serif;font-size:9.8px;text-rendering:geometricPrecision;filter:grayscale(1)">30 Mar 08:00</text>
<text x="520.3" y="683" fill="#000" textLength="54.2" lengthAdjust="spacingAndGlyphs" stroke="#000" stroke-width="0.2" style="font-family:'Liberation Sans',sans-serif;font-size:9.8px;text-rendering:geometricPrecision;filter:grayscale(1)">31 Mar 16:00</text>
<text x="584.3" y="683" fill="#000" textLength="47.7" lengthAdjust="spacingAndGlyphs" stroke="#000" stroke-width="0.2" style="font-family:'Liberation Sans',sans-serif;font-size:9.8px;text-rendering:geometricPrecision;filter:grayscale(1)">4 Apr 00:00</text>
<text x="648.3" y="683" fill="#000" textLength="47.7" lengthAdjust="spacingAndGlyphs" stroke="#000" stroke-width="0.2" style="font-family:'Liberation Sans',sans-serif;font-size:9.8px;text-rendering:geometricPrecision;filter:grayscale(1)">5 Apr 08:00</text>
<text x="712.3" y="683" fill="#000" textLength="47.7" lengthAdjust="spacingAndGlyphs" stroke="#000" stroke-width="0.2" style="font-family:'Liberation Sans',sans-serif;font-size:9.8px;text-rendering:geometricPrecision;filter:grayscale(1)">6 Apr 16:00</text>
<text x="776.3" y="683" fill="#000" textLength="47.7" lengthAdjust="spacingAndGlyphs" stroke="#000" stroke-width="0.2" style="font-family:'Liberation Sans',sans-serif;font-size:9.8px;text-rendering:geometricPrecision;filter:grayscale(1)">8 Apr 00:00</text>
<text x="840.3" y="683" fill="#000" textLength="52.7" lengthAdjust="spacingAndGlyphs" stroke="#000" stroke-width="0.2" style="font-family:'Liberation Sans',sans-serif;font-size:9.8px;text-rendering:geometricPrecision;filter:grayscale(1)">11 Apr 08:00</text>
<text x="904.3" y="683" fill="#000" textLength="52.7" lengthAdjust="spacingAndGlyphs" stroke="#000" stroke-width="0.2" style="font-family:'Liberation Sans',sans-serif;font-size:9.8px;text-rendering:geometricPrecision;filter:grayscale(1)">12 Apr 16:00</text>
<text x="968.3" y="683" fill="#000" textLength="52.7" lengthAdjust="spacingAndGlyphs" stroke="#000" stroke-width="0.2" style="font-family:'Liberation Sans',sans-serif;font-size:9.8px;text-rendering:geometricPrecision;filter:grayscale(1)">14 Apr 00:00</text>
<text x="1032.3" y="683" fill="#000" textLength="52.7" lengthAdjust="spacingAndGlyphs" stroke="#000" stroke-width="0.2" style="font-family:'Liberation Sans',sans-serif;font-size:9.8px;text-rendering:geometricPrecision;filter:grayscale(1)">18 Apr 04:00</text>
<text x="1096.3" y="683" fill="#000" textLength="52.7" lengthAdjust="spacingAndGlyphs" stroke="#000" stroke-width="0.2" style="font-family:'Liberation Sans',sans-serif;font-size:9.8px;text-rendering:geometricPrecision;filter:grayscale(1)">19 Apr 12:00</text>
<text x="1160.3" y="683" fill="#000" textLength="52.7" lengthAdjust="spacingAndGlyphs" stroke="#000" stroke-width="0.2" style="font-family:'Liberation Sans',sans-serif;font-size:9.8px;text-rendering:geometricPrecision;filter:grayscale(1)">20 Apr 20:00</text>
<text y="97" fill="#ff0000" style="font-family:'Liberation Sans','Noto Sans CJK SC',sans-serif"><tspan x="843" font-size="35">多空转折点</tspan><tspan x="1017" font-size="38">4420</tspan></text>
</svg>
</body></html>
